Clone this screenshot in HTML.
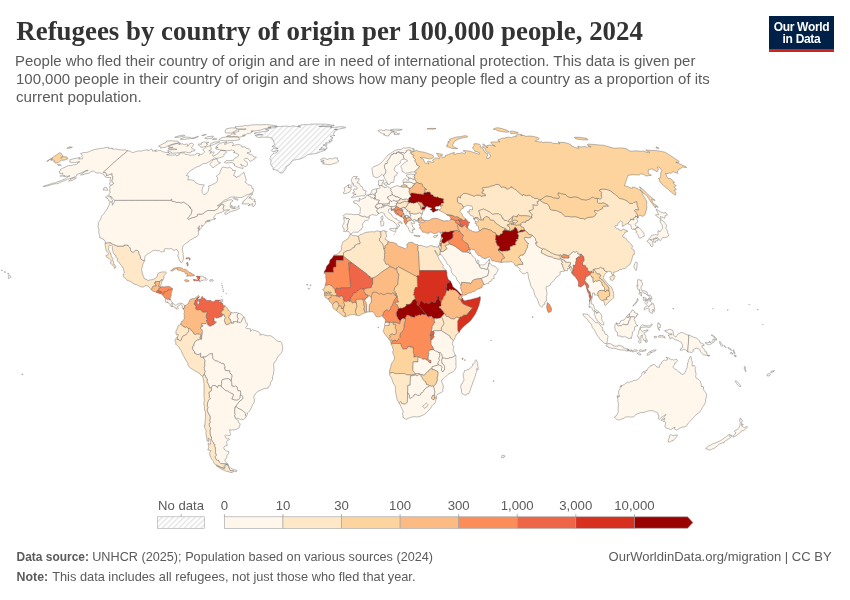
<!DOCTYPE html>
<html><head><meta charset="utf-8"><style>
html,body{margin:0;padding:0;background:#fff;width:850px;height:600px;overflow:hidden}
svg{display:block;will-change:transform}
.t{font-family:"Liberation Serif",serif;font-weight:bold;fill:#333}
.s{font-family:"Liberation Sans",sans-serif;fill:#5b5b5b}
</style></head><body>
<svg width="850" height="600" viewBox="0 0 850 600">
<defs>
<pattern id="hatch" patternUnits="userSpaceOnUse" width="3.9" height="3.9" patternTransform="rotate(45)">
<rect width="3.9" height="3.9" fill="#fff"/><rect width="1.3" height="3.9" fill="#e2e2e2"/></pattern>
</defs>
<text id="title" class="t" x="16.3" y="40" font-size="26.9" textLength="626.6" lengthAdjust="spacingAndGlyphs">Refugees by country of origin per 100,000 people, 2024</text>
<g class="s" font-size="14.9"><text id="sub1" x="15.0" y="66.4" textLength="680.4" lengthAdjust="spacingAndGlyphs">People who fled their country of origin and are in need of international protection. This data is given per</text><text id="sub2" x="16.0" y="84" textLength="693.7" lengthAdjust="spacingAndGlyphs">100,000 people in their country of origin and shows how many people fled a country as a proportion of its</text><text id="sub3" x="16.0" y="101.6" textLength="125.7" lengthAdjust="spacingAndGlyphs">current population.</text></g>
<g>
<rect x="769" y="16" width="65" height="36" fill="#002147"/>
<rect x="769" y="49" width="65" height="3" fill="#ce261e"/>
<text x="801.5" y="30.6" text-anchor="middle" font-family="Liberation Sans" font-weight="bold" font-size="12" fill="#fff" letter-spacing="-0.3">Our World</text>
<text x="801.5" y="42.6" text-anchor="middle" font-family="Liberation Sans" font-weight="bold" font-size="12" fill="#fff" letter-spacing="-0.3">in Data</text>
</g>
<g stroke="#555" stroke-width="0.4" stroke-linejoin="round">
<path d="M351.6 234.6L352.9 235.7 355 235.5 357.2 236.1 358.2 236.1 359 237.8 359.1 239.4 359.8 242.1 360.4 242.7 360 243.7 357.1 244.1 356.1 245.1 354.8 245.3 354.7 247.3 352.1 248.3 351.3 249.6 349.4 250.3 347.2 250.7 343.6 252.7 343.5 255.8 333.5 255.8 333.6 255.8 334.7 254.8 336.8 254.5 338.6 252.7 339.8 252 341.7 249.8 341.2 246.5 342.1 244.3 342.4 242.9 343.9 241.1 346.1 239.9 347.8 238.9 349.3 236.2 350 234.5 351.6 234.6Z" fill="#fee8c8"/>
<path d="M343.5 255.8L343.5 255.9 343.5 256.4 343.4 260.4 336 260.3 336 267 333.8 267.2 333.3 268.5 333.6 272.3 324.7 272.3 324.2 273.2 324.3 272.1 324.5 270.9 325.4 270.1 326.1 268.8 326 267.9 326.9 266.1 328.1 264.4 328.9 264 329.6 262.4 329.7 261 330.5 259.4 332 258.5 333.5 255.8 343.5 255.8Z" fill="#990000"/>
<path d="M343.5 256.4L343.5 255.9 343.5 255.8 343.6 252.7 347.2 250.7 349.4 250.3 351.3 249.6 352.1 248.3 354.7 247.3 354.8 245.3 356.1 245.1 357.1 244.1 360 243.7 360.4 242.7 359.8 242.1 359.1 239.4 359 237.8 358.2 236.1 360.3 234.7 362.6 234.2 364 233.1 366.1 232.3 369.7 231.9 373.3 231.7 374.4 232.1 376.4 231 378.7 231 379.6 231.6 381.1 231.5 380.7 232.8 381.1 235.3 380.7 237.4 379.4 238.9 379.6 240.9 381.4 242.4 382.9 244.1 383.9 248.8 384.7 251.1 384.9 252.3 384.5 254.5 384.7 255.7 384.4 257.1 384.7 258.8 383.8 259.8 385.2 261.8 385.3 262.9 386.1 264.3 387.2 263.9 389 265.1 390 266.7 382.3 271.7 375.8 276.8 372.6 278 370.1 278.3 370.1 276.6 369 276.2 367.6 275.4 367 274.2 359.4 268.5 351.8 262.8 343.5 256.4Z" fill="#fee8c8"/>
<path d="M383.9 248.8L382.9 244.1 381.5 243.1 381.4 242.4 379.6 240.9 379.4 238.9 380.7 237.4 381.1 235.3 380.7 232.8 381.1 231.5 383.4 230.4 384.9 230.7 384.9 232 386.7 231.1 386.9 231.6 385.9 232.9 385.9 234.1 386.7 234.7 386.5 237 385.1 238.3 385.5 239.7 386.7 239.8 387.3 241 388.1 241.4 388.1 243.4 387 244.2 386.4 245 384.9 246 385.2 247.1 385 248.2 383.9 248.8Z" fill="#fee8c8"/>
<path d="M396.5 268.3L394.9 269.3 393.6 267.8 390 266.7 389 265.1 387.2 263.9 386.1 264.3 385.3 262.9 385.2 261.8 383.8 259.8 384.7 258.8 384.4 257.1 384.7 255.7 384.5 254.5 384.9 252.3 384.7 251.1 383.9 248.8 385 248.2 385.2 247.1 384.9 246 386.4 245 387 244.2 388.1 243.4 388.1 241.4 390.7 242.3 391.7 242.1 393.5 242.5 396.5 243.7 397.6 246 399.6 246.5 402.8 247.6 405.2 248.9 406.3 248.2 407.3 247 406.6 245 407.3 243.8 408.8 242.5 410.3 242.2 413.3 242.7 414.1 243.9 414.9 243.9 415.7 244.3 417.9 244.7 418.5 245.5 417.8 246.8 418.2 247.9 417.7 249.5 418.5 251.6 419.1 260.9 419.5 270.6 419.7 275.8 417.1 275.8 417.1 276.9 407.9 271.9 398.7 266.9 396.5 268.3Z" fill="#fdbb84"/>
<path d="M446.3 270.6L437.4 270.6 428.6 270.6 419.5 270.6 419.1 260.9 418.5 251.6 417.7 249.5 418.2 247.9 417.8 246.8 418.5 245.5 421.4 245.5 423.6 246.2 425.8 246.9 426.9 247.3 428.5 246.5 429.4 245.8 431.3 245.6 432.9 245.9 433.6 247.2 434.1 246.3 435.9 246.9 437.6 247.1 438.7 246.4 440.5 250.9 440 252 439.7 254 439.2 255.3 438.7 255.8 437.9 254.9 434.9 250 434.7 250.3 435.8 253 437.4 255.6 439.4 259.7 440.4 261.1 441.2 262.6 443.4 265.5 443 266 443.1 267.7 445.9 270 446.3 270.6Z" fill="#fee8c8"/>
<path d="M441.1 303.4L440.8 303.3 440.8 302 440.5 301.1 439.3 300.1 438.9 298.2 439.2 296.3 438.1 296.1 438 296.7 436.6 296.8 437.2 297.6 437.4 299.1 436.2 300.6 435.1 302.5 433.9 302.7 431.9 301.2 431.1 301.8 430.8 302.5 429.7 303 429.6 303.5 427.3 303.5 427 303 425.3 302.9 424.5 303.4 423.9 303.1 422.6 301.6 422.2 300.9 420.6 301.3 420 302.5 419.4 304.8 418.6 305.3 417.9 305.6 417.7 305.5 416.9 304.7 416.8 303.9 417.1 302.8 417.1 301.7 415.8 300.1 415.5 299 415.5 298.4 414.6 297.6 414.6 296.1 414.1 295 413.3 295.2 413.5 294.2 414 293.1 413.8 292.1 414.5 291.3 414 290.6 414.6 289 415.6 287.1 417.5 287.3 417.1 276.9 417.1 275.8 419.7 275.8 419.5 270.6 428.6 270.6 437.4 270.6 446.3 270.6 447.2 273.1 446.7 273.6 447.2 276.3 448.2 279.4 449.1 280.1 450.4 281 449.4 282.5 447.7 283 447 283.8 446.9 285.5 446.1 289.4 446.4 290.4 446.1 292.6 445.2 295.2 443.9 296.5 443 298.5 442.8 299.6 441.7 300.3 441.1 303.1 441.1 303.4Z" fill="#d7301f"/>
<path d="M441.1 303.4L441.2 305.4 440.8 306.2 439.6 306.3 438.9 307.8 440.3 308 441.5 309.2 441.9 310.3 443 310.9 444.4 313.7 442.8 315.5 441.4 317 440 318.2 438.4 318.2 436.6 318.8 435.1 318.3 434.1 319 432.1 317.2 431.5 316.1 430.2 316.7 429.2 316.5 428.6 316.9 427.5 316.6 426.1 314.4 425.7 313.6 424 312.6 423.4 311 422.4 309.9 420.8 308.5 420.8 307.7 419.5 306.6 417.9 305.6 418.6 305.3 419.4 304.8 420 302.5 420.6 301.3 422.2 300.9 422.6 301.6 423.9 303.1 424.5 303.4 425.3 302.9 427 303 427.3 303.5 429.6 303.5 429.7 303 430.8 302.5 431.1 301.8 431.9 301.2 433.9 302.7 435.1 302.5 436.2 300.6 437.4 299.1 437.2 297.6 436.6 296.8 438 296.7 438.1 296.1 439.2 296.3 438.9 298.2 439.3 300.1 440.5 301.1 440.8 302 440.8 303.3 441.1 303.4Z" fill="#990000"/>
<path d="M396.2 294.5L396.4 293.3 394.9 293.2 394.9 291.5 393.9 290.5 394.9 287.1 397.7 284.6 397.8 281.2 398.5 275.9 399 274.8 398 273.9 398 273.1 397.1 272.4 396.5 268.3 398.7 266.9 407.9 271.9 417.1 276.9 417.5 287.3 415.6 287.1 414.6 289 414 290.6 414.5 291.3 413.8 292.1 414 293.1 413.5 294.2 413.3 295.2 414.1 295 414.6 296.1 414.6 297.6 415.5 298.4 415.5 299 414 299.4 412.9 300.5 411.3 303.3 409.1 304.6 406.9 304.4 406.2 304.6 406.5 305.6 405.3 306.5 404.3 307.5 401.4 308.5 400.8 307.9 400.5 307.9 400 308.5 398.1 308.7 398.5 308 397.7 306.2 397.4 305.1 396.4 304.7 395 303.2 395.5 301.9 396.6 302.2 397.2 302 398.5 302 397.2 299.6 397.3 297.9 397.1 296.2 396.2 294.5Z" fill="#fdd49e"/>
<path d="M426.1 314.4L425.3 314.7 423.9 314.7 422.1 314.4 421.3 314.6 420.9 315.3 420.2 315.3 419.3 314.8 416.7 316.1 415.6 315.8 415.3 316 414.7 317.6 412.9 317.1 411.2 316.8 409.8 315.9 407.8 315 406.6 315.8 405.7 317.2 405.5 319 404.1 318.8 402.5 318.4 401.1 319.8 399.9 322.2 399.7 321.5 399.6 320.3 398.5 319.4 397.6 318.1 397.4 317.1 396.3 315.8 396.5 315 396.3 313.9 396.4 311.9 397 311.4 398.1 308.7 400 308.5 400.5 307.9 400.8 307.9 401.4 308.5 404.3 307.5 405.3 306.5 406.5 305.6 406.2 304.6 406.9 304.4 409.1 304.6 411.3 303.3 412.9 300.5 414 299.4 415.5 299 415.8 300.1 417.1 301.7 417.1 302.8 416.8 303.9 416.9 304.7 417.7 305.5 419.5 306.6 420.8 307.7 420.8 308.5 422.4 309.9 423.4 311 424 312.6 425.7 313.6 426.1 314.4Z" fill="#990000"/>
<path d="M460.1 295.3L459.3 294.5 458.3 292.9 457.3 292.1 456.6 291.2 454.6 290.1 453 290.1 452.4 289.6 451.1 290.2 449.7 289 449 290.9 446.4 290.4 446.1 289.4 446.9 285.5 447 283.8 447.7 283 449.4 282.5 450.4 281 451.9 284.1 452.7 286.5 454 287.7 457.2 290.2 458.6 291.7 459.9 293.2 460.6 294.1 461.8 294.9 461.1 295.5 460.1 295.3Z" fill="#990000"/>
<path d="M449.7 289L451.1 290.2 452.4 289.6 453 290.1 454.6 290.1 456.6 291.2 457.3 292.1 458.3 292.9 459.3 294.5 460.1 295.3 459.4 296.5 458.6 297.7 458.8 298.4 458.9 299.2 460.2 299.3 460.7 299.1 461.3 299.5 460.8 300.5 461.7 301.9 462.6 303.2 463.5 304.1 471.1 307.2 473.1 307.2 466.7 315.1 463.7 315.2 461.7 317 460.2 317.1 459.6 317.9 458 317.9 457.1 317 455 318.1 454.3 319.2 452.8 319 452.3 318.7 451.7 318.8 451 318.7 448 316.5 446.4 316.5 445.6 315.6 445.6 314.2 444.4 313.7 443 310.9 441.9 310.3 441.5 309.2 440.3 308 438.9 307.8 439.6 306.3 440.8 306.2 441.2 305.4 441.1 303.1 441.7 300.3 442.8 299.6 443 298.5 443.9 296.5 445.2 295.2 446.1 292.6 446.4 290.4 449 290.9 449.7 289Z" fill="#fdbb84"/>
<path d="M459 332.6L457.7 330.4 457.6 320.9 459.6 317.9 460.2 317.1 461.7 317 463.7 315.2 466.7 315.1 473.1 307.2 471.1 307.2 463.5 304.1 462.6 303.2 461.7 301.9 460.8 300.5 461.3 299.5 462.1 298.1 462.8 298.6 463.3 299.7 464.4 300.8 465.5 300.8 467.7 300.1 470.2 299.8 472.2 299 473.3 298.9 474.1 298.4 475.4 298.3 476.1 298.2 477.2 297.8 478.4 297.6 479.4 296.7 480.3 296.7 480.4 297.4 480.3 298.9 480.3 300.3 479.9 301.2 479.3 304.1 478.3 307 477 310.3 475.1 314.2 473.2 317.1 470.5 320.7 468.2 322.8 464.8 325.4 462.6 327.4 460.1 330.6 459.6 331.9 459 332.6Z" fill="#d7301f"/>
<path d="M461.8 294.9L462.4 295.7 462.3 296.8 461.1 297.4 462.1 298.1 461.3 299.5 460.7 299.1 460.2 299.3 458.9 299.2 458.8 298.4 458.6 297.7 459.4 296.5 460.1 295.3 461.1 295.5 461.8 294.9Z" fill="#fdbb84"/>
<path d="M457.7 330.4L459 332.6 457.4 333.6 456.8 334.7 456 334.9 455.6 336.7 454.9 337.8 454.4 339.5 453.4 340.4 450.2 337.8 450 336.3 441.7 330.9 441.3 330.6 441.3 327.9 441.9 326.8 443.1 325.1 443.9 323.2 442.9 320.2 442.6 318.8 441.4 317 442.8 315.5 444.4 313.7 445.6 314.2 445.6 315.6 446.4 316.5 448 316.5 451 318.7 451.7 318.8 452.3 318.7 452.8 319 454.3 319.2 455 318.1 457.1 317 458 317.9 459.6 317.9 457.6 320.9 457.7 330.4Z" fill="#fee8c8"/>
<path d="M436.6 330.8L434 330.8 433.2 331.1 431.8 331.9 431.3 331.7 431.3 329.7 431.8 328.7 432 326.6 432.5 325.4 433.3 324 434.2 323.3 435 322.4 434 322 434.1 319 435.1 318.3 436.6 318.8 438.4 318.2 440 318.2 441.4 317 442.6 318.8 442.9 320.2 443.9 323.2 443.1 325.1 441.9 326.8 441.3 327.9 441.3 330.6 436.6 330.8Z" fill="#fee8c8"/>
<path d="M441.3 330.6L441.7 330.9 450 336.3 450.2 337.8 453.4 340.4 452.3 343.6 452.4 345.1 453.9 346.1 453.9 346.7 453.3 348.3 453.4 349.1 453.2 350.4 454 352 454.8 354.6 455.7 355.2 453.8 356.7 451.2 357.7 449.9 357.6 449 358.4 447.4 358.5 446.8 358.8 444.1 358.1 442.3 358.3 441.8 354.7 441 353.5 440.6 352.8 438.3 352.3 437.1 351.5 435.6 351.1 434.7 350.6 433.7 350 432.6 346.7 431.2 345.2 430.8 343.7 431 342.3 430.7 339.9 431.6 339.8 432.5 338.9 433.4 337.5 434 336.9 433.9 336.1 433.5 335.5 433.3 334.5 434 334.1 434.1 332.6 433.2 331.1 434 330.8 436.6 330.8 441.3 330.6Z" fill="#fff7ec"/>
<path d="M433.2 331.1L434.1 332.6 434 334.1 433.3 334.5 432.1 334.3 431.4 335.8 430 335.6 430.2 334.2 430.5 333.9 430.6 332.4 431.3 331.7 431.8 331.9 433.2 331.1Z" fill="#ef6548"/>
<path d="M430.7 339.9L430.6 336.8 430 335.6 431.4 335.8 432.1 334.3 433.3 334.5 433.5 335.5 433.9 336.1 434 336.9 433.4 337.5 432.5 338.9 431.6 339.8 430.7 339.9Z" fill="#ef6548"/>
<path d="M434.1 319L434 322 435 322.4 434.2 323.3 433.3 324 432.5 325.4 432 326.6 431.8 328.7 431.3 329.7 431.3 331.7 430.6 332.4 430.5 333.9 430.2 334.2 430 335.6 430.6 336.8 430.7 339.9 431 342.3 430.8 343.7 431.2 345.2 432.6 346.7 433.7 350 432.8 349.7 429.7 350.2 429.1 350.5 428.4 352.1 428.9 353.3 428.4 356.4 428.1 359 428.7 359.5 430.3 360.5 430.9 360 431 362.9 429.3 362.8 428.4 361.4 427.6 360.3 425.8 359.9 425.3 358.5 423.9 359.4 422.1 359 421.3 357.8 419.9 357.6 418.8 357.6 418.7 356.8 417.9 356.8 416.8 356.6 415.4 357 414.4 356.9 413.8 357.2 414 354.1 413.3 353.1 413.1 351.5 413.5 349.9 413 348.9 413 347.2 410.2 347.3 410.4 346.3 409.2 346.3 409.1 346.8 407.7 346.9 407.1 348.4 406.7 349.1 405.5 348.7 404.7 349.1 403.2 349.3 402.3 347.9 401.8 347.1 401.1 345.5 400.6 343.5 393.8 343.5 393 343.8 392.3 343.8 391.3 344.1 391 343.3 391.6 343 391.7 341.9 392.1 341.2 392.9 340.7 393.5 340.9 394.3 339.9 395.6 340 395.7 340.7 396.6 341.2 397.9 339.5 399.3 338.2 399.9 337.4 399.8 335.2 400.8 332.7 401.9 331.4 403.4 330.1 403.7 329.3 403.7 328.3 404.1 327.4 404 325.9 404.3 323.6 404.7 322 405.4 320.6 405.5 319 405.7 317.2 406.6 315.8 407.8 315 409.8 315.9 411.2 316.8 412.9 317.1 414.7 317.6 415.3 316 415.6 315.8 416.7 316.1 419.3 314.8 420.2 315.3 420.9 315.3 421.3 314.6 422.1 314.4 423.9 314.7 425.3 314.7 426.1 314.4 427.5 316.6 428.6 316.9 429.2 316.5 430.2 316.7 431.5 316.1 432.1 317.2 434.1 319Z" fill="#fc8d59"/>
<path d="M392.9 340.7L392 339.8 391.3 340.2 390.4 341.3 388.5 338.6 390.3 337.1 389.4 335.4 390.2 334.7 391.8 334.4 392 333.3 393.2 334.5 395.2 334.6 396 333.4 396.3 331.6 396 329.6 394.9 328 395.9 325 395.3 324.5 393.6 324.7 393 323.4 393.1 322.2 396 322.3 397.9 323 399.8 323.6 399.9 322.2 401.1 319.8 402.5 318.4 404.1 318.8 405.5 319 405.4 320.6 404.7 322 404.3 323.6 404 325.9 404.1 327.4 403.7 328.3 403.7 329.3 403.4 330.1 401.9 331.4 400.8 332.7 399.8 335.2 399.9 337.4 399.3 338.2 397.9 339.5 396.6 341.2 395.7 340.7 395.6 340 394.3 339.9 393.5 340.9 392.9 340.7Z" fill="#fdbb84"/>
<path d="M388.5 338.6L386.2 335.9 384.6 333.8 383.2 331.1 383.3 330.2 383.8 329.4 384.4 327.4 384.8 325.5 385.6 325.4 389 325.4 389 322.2 390.1 322.1 391.5 322.4 392.8 322.1 393.1 322.2 393 323.4 393.6 324.7 395.3 324.5 395.9 325 394.9 328 396 329.6 396.3 331.6 396 333.4 395.2 334.6 393.2 334.5 392 333.3 391.8 334.4 390.2 334.7 389.4 335.4 390.3 337.1 388.5 338.6Z" fill="#fdd49e"/>
<path d="M385.2 322.2L389 322.2 389 325.4 385.6 325.4 384.8 325.5 384.4 325.1 385.2 322.2Z" fill="#fff7ec"/>
<path d="M393.1 322.2L392.8 322.1 391.5 322.4 390.1 322.1 389 322.2 385.2 322.2 385.5 320.1 384.6 318.4 383.6 317.9 383.1 316.8 382.5 316.4 382.5 315.7 383.1 313.8 384.2 311.3 384.9 311.3 386.2 309.7 387.1 309.7 388.4 310.8 390 309.9 390.2 308.8 390.7 307.7 391.1 306.4 392.3 305.3 392.7 303.5 393.2 302.9 393.5 301.6 394.1 299.9 396 297.9 396.1 297 396.4 296.5 395.5 295.5 395.5 294.6 396.2 294.5 397.1 296.2 397.3 297.9 397.2 299.6 398.5 302 397.2 302 396.6 302.2 395.5 301.9 395 303.2 396.4 304.7 397.4 305.1 397.7 306.2 398.5 308 398.1 308.7 397 311.4 396.4 311.9 396.3 313.9 396.5 315 396.3 315.8 397.4 317.1 397.6 318.1 398.5 319.4 399.6 320.3 399.7 321.5 399.9 322.2 399.8 323.6 397.9 323 396 322.3 393.1 322.2Z" fill="#fc8d59"/>
<path d="M382.5 315.7L380.1 316.6 379.3 316.5 378.4 317 376.5 317 375.3 315.4 374.5 313.5 372.9 311.7 371.1 311.8 369.1 311.8 369.2 307.5 369.2 305.9 369.6 304.2 370.3 303.4 371.4 301.8 371.2 301.1 371.6 300.1 371.1 298.5 371.2 297.6 371.4 295.3 372 294.2 372.3 292.7 372.9 292.2 375.4 291.9 377.7 292.8 378.5 293.8 379.7 293.9 380.8 293.2 383.6 294.6 384.8 294.5 386.1 293.4 387.4 293.5 388.1 293.1 389.3 293.3 391.1 294 392.9 292.6 393.4 292.7 395 295.5 395.5 295.5 396.4 296.5 396.1 297 396 297.9 394.1 299.9 393.5 301.6 393.2 302.9 392.7 303.5 392.3 305.3 391.1 306.4 390.7 307.7 390.2 308.8 390 309.9 388.4 310.8 387.1 309.7 386.2 309.7 384.9 311.3 384.2 311.3 383.1 313.8 382.5 315.7Z" fill="#fdbb84"/>
<path d="M367.8 296.9L367.9 295.1 365.3 294.5 365.2 293.2 363.9 291.5 363.6 290.3 363.8 289.1 365.2 289 366.1 288 369.2 287.8 371.2 287.4 371.4 285.8 372.6 284 372.6 278 375.8 276.8 382.3 271.7 390 266.7 393.6 267.8 394.9 269.3 396.5 268.3 397.1 272.4 398 273.1 398 273.9 399 274.8 398.5 275.9 397.8 281.2 397.7 284.6 394.9 287.1 393.9 290.5 394.9 291.5 394.9 293.2 396.4 293.3 396.2 294.5 395.5 294.6 395.5 295.5 395 295.5 393.4 292.7 392.9 292.6 391.1 294 389.3 293.3 388.1 293.1 387.4 293.5 386.1 293.4 384.8 294.5 383.6 294.6 380.8 293.2 379.7 293.9 378.5 293.8 377.7 292.8 375.4 291.9 372.9 292.2 372.3 292.7 372 294.2 371.4 295.3 371.2 297.6 369.4 296.1 368.6 296.1 367.8 296.9Z" fill="#fdbb84"/>
<path d="M335 289.9L335.8 289.4 336.2 287.9 336.9 287.8 338.5 288.5 339.8 288 340.7 288.2 341.1 287.6 350.2 287.6 350.8 285.7 350.4 285.4 349.4 274.1 348.4 262.8 351.8 262.8 359.4 268.5 367 274.2 367.6 275.4 369 276.2 370.1 276.6 370.1 278.3 372.6 278 372.6 284 371.4 285.8 371.2 287.4 369.2 287.8 366.1 288 365.2 289 363.8 289.1 362.3 289.1 361.7 288.6 360.5 289 358.3 290 357.9 290.9 356.1 292 355.8 292.7 354.8 293.2 353.7 292.9 353.1 293.5 352.7 295.3 350.9 297.5 351 298.4 350.3 299.5 350.5 301 349.5 301.4 349 301.7 348.6 300.6 348 300.9 347.6 300.8 347.1 301.6 345.4 301.6 344.7 301.2 344.4 301.4 343.7 300.7 343.9 299.9 343.6 299.6 343.1 299.9 343.2 299 343.6 298.3 342.7 297.2 342.4 296.5 341.9 295.9 341.5 295.9 340.9 296.2 340.2 296.6 339.5 297.1 338.6 296.9 337.9 296.3 337.6 296.2 336.9 296.5 336.6 296.5 336.5 295.6 336.6 294.8 336.4 293.8 335.5 293 335.1 291.5 335 289.9Z" fill="#ef6548"/>
<path d="M335 289.9L333.5 288.1 332.2 286.2 330.7 285.5 329.6 284.7 328.3 284.7 327.2 285.3 326.1 285.1 325.3 285.9 325.1 284.5 325.8 283.2 326.1 280.7 325.9 278.2 325.7 276.9 325.9 275.6 325.4 274.3 324.2 273.2 324.7 272.3 333.6 272.3 333.3 268.5 333.8 267.2 336 267 336 260.3 343.4 260.4 343.5 256.4 351.8 262.8 348.4 262.8 349.4 274.1 350.4 285.4 350.8 285.7 350.2 287.6 341.1 287.6 340.7 288.2 339.8 288 338.5 288.5 336.9 287.8 336.2 287.9 335.8 289.4 335 289.9Z" fill="#fc8d59"/>
<path d="M324.6 292.6L323.7 290.5 322.5 289.6 323.6 289.1 324.7 287.3 325.3 285.9 326.1 285.1 327.2 285.3 328.3 284.7 329.6 284.7 330.7 285.5 332.2 286.2 333.5 288.1 335 289.9 335.1 291.5 335.5 293 336.4 293.8 336.6 294.8 336.5 295.6 336.1 295.7 334.9 295.5 334.7 295.8 334.2 295.9 332.6 295.2 331.4 295.2 327.2 295.1 326.6 295.4 325.8 295.3 324.6 295.7 324.3 293.7 326.3 293.8 326.9 293.4 327.3 293.4 328.2 292.8 329.2 293.3 330.1 293.4 331.1 292.8 330.7 292 329.9 292.5 329.2 292.5 328.3 291.8 327.6 291.9 327.1 292.5 324.6 292.6Z" fill="#fdd49e"/>
<path d="M324.3 293.7L324.6 292.6 327.1 292.5 327.6 291.9 328.3 291.8 329.2 292.5 329.9 292.5 330.7 292 331.1 292.8 330.1 293.4 329.2 293.3 328.2 292.8 327.3 293.4 326.9 293.4 326.3 293.8 324.3 293.7Z" fill="#fdd49e"/>
<path d="M328.1 299.3L326.9 298.2 325.9 298 325.4 297.2 325.4 296.8 324.7 296.3 324.6 295.7 325.8 295.3 326.6 295.4 327.2 295.1 331.4 295.2 331.4 296.1 331.1 296.4 331.3 297.2 331 297.6 330.4 297.6 329.8 298 329.1 298 328.1 299.3Z" fill="#fdd49e"/>
<path d="M331.4 295.2L332.6 295.2 334.2 295.9 334.7 295.8 334.9 295.5 336.1 295.7 336.5 295.6 336.6 296.5 336.9 296.5 337.6 296.2 337.9 296.3 338.6 296.9 339.5 297.1 340.2 296.6 340.9 296.2 341.5 295.9 341.9 295.9 342.4 296.5 342.7 297.2 343.6 298.3 343.2 299 343.1 299.9 343.6 299.6 343.9 299.9 343.7 300.7 344.4 301.4 344 301.6 343.8 302.5 344.3 303.6 344.9 305.7 344 306 343.8 306.4 344 306.9 343.8 308 343.4 308 342.8 308 342.3 309 341.7 309 341.2 308.4 341.4 307.4 340.4 305.8 339.8 306.1 339.3 306.1 338.7 306.3 338.7 305.3 338.4 304.7 338.4 303.9 337.9 302.8 337.3 301.9 335.5 301.9 334.9 302.3 334.3 302.4 333.9 303 333.6 303.7 332.4 304.8 331.4 303.3 330.5 302.3 329.9 301.9 329.4 301.4 329.1 300.3 328.8 299.7 328.1 299.3 329.1 298 329.8 298 330.4 297.6 331 297.6 331.3 297.2 331.1 296.4 331.4 296.1 331.4 295.2Z" fill="#fdbb84"/>
<path d="M336.5 310.4L335.9 310.2 334.2 309.1 333 307.7 332.7 306.8 332.4 304.8 333.6 303.7 333.9 303 334.3 302.4 334.9 302.3 335.5 301.9 337.3 301.9 337.9 302.8 338.4 303.9 338.4 304.7 338.7 305.3 338.7 306.3 339.3 306.1 338.2 307.4 337.2 308.8 337.1 309.6 336.5 310.4Z" fill="#fdd49e"/>
<path d="M345.1 316.7L344.5 316.7 342.1 315.5 340 313.5 338.1 312.1 336.5 310.4 337.1 309.6 337.2 308.8 338.2 307.4 339.3 306.1 339.8 306.1 340.4 305.8 341.4 307.4 341.2 308.4 341.7 309 342.3 309 342.8 308 343.4 308 343.3 308.8 343.6 310.1 343.1 311.2 343.7 311.9 344.5 312.1 345.4 313.2 345.5 314.2 345.3 314.6 345.1 316.7Z" fill="#fdd49e"/>
<path d="M356.3 315.1L355.3 315.1 353.6 314.6 352.2 314.6 349.4 315.1 347.8 315.8 345.5 316.8 345.1 316.7 345.3 314.6 345.5 314.2 345.4 313.2 344.5 312.1 343.7 311.9 343.1 311.2 343.6 310.1 343.3 308.8 343.4 308 343.8 308 344 306.9 343.8 306.4 344 306 344.9 305.7 344.3 303.6 343.8 302.5 344 301.6 344.4 301.4 344.7 301.2 345.4 301.6 347.1 301.6 347.6 300.8 348 300.9 348.6 300.6 349 301.7 349.5 301.4 350.5 301 351.5 301.6 351.9 302.4 352.9 303 353.7 302.3 354.8 302.2 356.4 302.9 357 306.6 356 308.8 355.4 311.8 356.4 314 356.3 315.1Z" fill="#fdd49e"/>
<path d="M356.4 302.9L354.8 302.2 353.7 302.3 352.9 303 351.9 302.4 351.5 301.6 350.5 301 350.3 299.5 351 298.4 350.9 297.5 352.7 295.3 353.1 293.5 353.7 292.9 354.8 293.2 355.8 292.7 356.1 292 357.9 290.9 358.3 290 360.5 289 361.7 288.6 362.3 289.1 363.8 289.1 363.6 290.3 363.9 291.5 365.2 293.2 365.3 294.5 367.9 295.1 367.8 296.9 367.3 297.7 366.2 297.9 365.8 299.1 365 299.4 363 299.3 361.9 299.1 361.1 299.5 360.1 299.3 356.1 299.5 356.1 300.9 356.4 302.9Z" fill="#fc8d59"/>
<path d="M365.3 312.6L361.7 314.2 360.4 315.1 358.4 315.8 356.3 315.1 356.4 314 355.4 311.8 356 308.8 357 306.6 356.4 302.9 356.1 300.9 356.1 299.5 360.1 299.3 361.1 299.5 361.9 299.1 363 299.3 362.8 300.1 363.7 301.5 363.7 303.4 364 305.4 364.5 306.4 364 308.7 364.2 310.1 364.8 311.7 365.3 312.6Z" fill="#fdd49e"/>
<path d="M367.2 312.1L365.3 312.6 364.8 311.7 364.2 310.1 364 308.7 364.5 306.4 364 305.4 363.7 303.4 363.7 301.5 362.8 300.1 363 299.3 365 299.4 364.7 300.7 365.4 301.5 366.2 302.4 366.3 303.7 366.7 304.3 366.6 310.3 367.2 312.1Z" fill="#fdbb84"/>
<path d="M369.1 311.8L367.2 312.1 366.6 310.3 366.7 304.3 366.3 303.7 366.2 302.4 365.4 301.5 364.7 300.7 365 299.4 365.8 299.1 366.2 297.9 367.3 297.7 367.8 296.9 368.6 296.1 369.4 296.1 371.2 297.6 371.1 298.5 371.6 300.1 371.2 301.1 371.4 301.8 370.3 303.4 369.6 304.2 369.2 305.9 369.2 307.5 369.1 311.8Z" fill="#fff7ec"/>
<path d="M400.6 343.5L401.1 345.5 401.8 347.1 402.3 347.9 403.2 349.3 404.7 349.1 405.5 348.7 406.7 349.1 407.1 348.4 407.7 346.9 409.1 346.8 409.2 346.3 410.4 346.3 410.2 347.3 413 347.2 413 348.9 413.5 349.9 413.1 351.5 413.3 353.1 414 354.1 413.8 357.2 414.4 356.9 415.4 357 416.8 356.6 417.9 356.8 418.1 357.6 417.8 358.8 418.2 360.1 417.8 361 418 361.9 413.2 361.9 412.9 370.2 414.4 372.4 415.8 374 411.6 375.1 406.1 374.7 404.6 373.5 395.3 373.6 395 373.8 393.6 372.6 392.2 372.5 390.8 372.9 389.7 373.4 389.5 371.8 389.8 369.5 390.7 367.1 390.8 366 391.6 363.6 392.1 362.5 393.5 360.8 394.2 359.7 394.5 357.7 394.4 356.2 393.7 355.3 393.1 353.7 392.6 352.1 392.7 351.6 393.4 350.6 392.7 348 392.3 346.3 391.1 344.6 391.3 344.1 392.3 343.8 393 343.8 393.8 343.5 400.6 343.5ZM391.6 343L391 343.3 390.4 341.3 391.3 340.2 392 339.8 392.9 340.7 392.1 341.2 391.7 341.9 391.6 343Z" fill="#fdd49e"/>
<path d="M433.7 350L434.7 350.6 435.6 351.1 437.1 351.5 438.3 352.3 439.4 353.5 439.9 355.7 439.5 356.4 439 358.5 439.4 360.7 438.6 361.6 437.8 364 439 364.7 432 366.9 432.2 368.7 430.4 369.1 429.1 370.1 428.8 371.1 427.9 371.3 425.9 373.4 424.5 375.1 423.8 375.2 423 374.9 420.5 374.6 420.1 374.4 420.1 374.2 419.2 373.6 417.7 373.4 415.8 374 414.4 372.4 412.9 370.2 413.2 361.9 418 361.9 417.8 361 418.2 360.1 417.8 358.8 418.1 357.6 417.9 356.8 418.7 356.8 418.8 357.6 419.9 357.6 421.3 357.8 422.1 359 423.9 359.4 425.3 358.5 425.8 359.9 427.6 360.3 428.4 361.4 429.3 362.8 431 362.9 430.9 360 430.3 360.5 428.7 359.5 428.1 359 428.4 356.4 428.9 353.3 428.4 352.1 429.1 350.5 429.7 350.2 432.8 349.7 433.7 350Z" fill="#fff7ec"/>
<path d="M438.3 352.3L440.6 352.8 441 353.5 441.8 354.7 442.3 358.3 441.6 360.3 442.2 363.7 442.9 363.7 443.7 364.5 444.6 366.4 444.7 369.8 443.7 370.3 442.9 372.1 441.5 370.5 441.4 368.7 441.9 367.4 441.8 366.4 440.9 365.7 440.3 366 439 364.7 437.8 364 438.6 361.6 439.4 360.7 439 358.5 439.5 356.4 439.9 355.7 439.4 353.5 438.3 352.3Z" fill="#fff7ec"/>
<path d="M442.3 358.3L444.1 358.1 446.8 358.8 447.4 358.5 449 358.4 449.9 357.6 451.2 357.7 453.8 356.7 455.7 355.2 456 356.3 455.8 358.9 456 361.2 455.9 365.3 456.3 366.6 455.5 368.5 454.5 370.3 453 371.9 450.9 372.9 448.2 374.2 445.5 377 444.6 377.5 442.9 379.3 441.9 379.9 441.6 381.8 442.6 383.8 443 385.3 443 386.1 443.4 386 443.1 388.5 442.7 389.8 443.2 390.2 442.8 391.3 441.8 392.2 439.9 393.1 437.1 394.5 436.1 395.5 436.2 396.6 436.7 396.8 436.4 398.1 434.8 398.1 434.6 397 434.4 395.8 434.3 394.9 434.8 391.9 434.3 390.1 433.5 386.4 436 383.4 436.7 381.5 437 381.3 437.4 379.8 437 379 437.2 377 437.8 375.2 437.9 371.9 436.8 371.1 435.7 370.9 435.2 370.2 434.2 369.7 432.3 369.7 432.2 368.7 432 366.9 439 364.7 440.3 366 440.9 365.7 441.8 366.4 441.9 367.4 441.4 368.7 441.5 370.5 442.9 372.1 443.7 370.3 444.7 369.8 444.6 366.4 443.7 364.5 442.9 363.7 442.2 363.7 441.6 360.3 442.3 358.3Z" fill="#fff7ec"/>
<path d="M433.5 386.4L432.3 386.1 431.5 386.4 430.4 386 429.5 386 428.1 384.8 426.4 384.4 425.8 382.7 425.8 381.8 424.8 381.5 422.4 378.7 421.7 377.1 421.3 376.7 420.5 374.6 423 374.9 423.8 375.2 424.5 375.1 425.9 373.4 427.9 371.3 428.8 371.1 429.1 370.1 430.4 369.1 432.2 368.7 432.3 369.7 434.2 369.7 435.2 370.2 435.7 370.9 436.8 371.1 437.9 371.9 437.8 375.2 437.2 377 437 379 437.4 379.8 437 381.3 436.7 381.5 436 383.4 433.5 386.4Z" fill="#fdd49e"/>
<path d="M399.3 403L397.8 401 396.9 399.1 396.5 396.5 396 394.6 395.4 390.6 395.4 387.5 395.2 386 394.3 384.9 393.2 382.8 392 379.6 391.6 378 389.8 375.4 389.7 373.4 390.8 372.9 392.2 372.5 393.6 372.6 395 373.8 395.3 373.6 404.6 373.5 406.1 374.7 411.6 375.1 415.8 374 417.7 373.4 419.2 373.6 420.1 374.2 420.1 374.4 418.8 375 418.1 375 416.6 376 415.8 374.9 412.2 375.8 410.5 375.9 410.2 385.3 407.9 385.3 407.7 393 407.3 402.6 405.2 404 404 404.2 402.6 403.7 401.6 403.5 401.3 402.4 400.5 401.7 399.3 403Z" fill="#fee8c8"/>
<path d="M421.3 376.7L421.7 377.1 422.4 378.7 424.8 381.5 425.8 381.8 425.8 382.7 426.4 384.4 428.1 384.8 429.5 386 426.2 387.9 424.1 389.9 423.3 391.6 422.5 392.6 421.3 392.8 420.8 394 420.6 394.9 419.1 395.5 417.3 395.3 416.2 394.6 415.3 394.3 414.2 394.9 413.6 396.2 412.5 396.9 411.3 398.1 409.7 398.4 409.2 397.5 409.5 395.9 408.3 393.4 407.7 393 407.9 385.3 410.2 385.3 410.5 375.9 412.2 375.8 415.8 374.9 416.6 376 418.1 375 418.8 375 420.1 374.4 420.5 374.6 421.3 376.7Z" fill="#fff7ec"/>
<path d="M433 404.7L432.6 405.1 431.5 406.4 430.8 407.8 429.4 409.7 426.6 412.4 424.9 413.9 423.2 415.1 420.8 416.1 419.7 416.3 419.3 417 418 416.6 416.9 417.1 414.6 416.6 413.2 416.9 412.3 416.8 410 417.8 408.1 418.2 406.7 419.2 405.7 419.3 404.8 418.4 404.1 418.3 403.2 417.1 403.1 417.5 402.8 416.8 403 415.3 402.3 413.5 403.1 413 403.1 411 401.8 408.6 400.8 406.4 399.3 403 400.5 401.7 401.3 402.4 401.6 403.5 402.6 403.7 404 404.2 405.2 404 407.3 402.6 407.7 393 408.3 393.4 409.5 395.9 409.2 397.5 409.7 398.4 411.3 398.1 412.5 396.9 413.6 396.2 414.2 394.9 415.3 394.3 416.2 394.6 417.3 395.3 419.1 395.5 420.6 394.9 420.8 394 421.3 392.8 422.5 392.6 423.3 391.6 424.1 389.9 426.2 387.9 429.5 386 430.4 386 431.5 386.4 432.3 386.1 433.5 386.4 434.3 390.1 434.8 391.9 434.3 394.9 434.4 395.8 433.3 395.3 432.6 395.5 432.4 396.3 431.7 397.2 431.6 398.2 432.9 399.6 434.2 399.3 434.8 398.1 436.4 398.1 435.8 400.1 435.3 402.2 434.7 403.4 433 404.7Z" fill="#fff7ec"/>
<path d="M427.4 403.9L428.1 404.7 427.4 406 426.9 406.9 425.7 407.3 425.2 408.1 424.4 408.4 422.9 406.4 424.2 404.7 425.4 403.7 426.5 403.1 427.4 403.9Z" fill="#fff7ec"/>
<path d="M434.8 398.1L434.2 399.3 432.9 399.6 431.6 398.2 431.7 397.2 432.4 396.3 432.6 395.5 433.3 395.3 434.4 395.8 434.6 397 434.8 398.1Z" fill="#fdd49e"/>
<path d="M476.7 360.8L477.2 361.9 477.7 363.6 477.9 366.8 478.4 368 478.1 369.3 477.7 370 477 368.5 476.5 369.3 476.8 371.2 476.5 372.3 475.9 372.9 475.6 375.1 474.5 378.2 473.1 381.8 471.3 386.8 470.1 390.4 468.9 393.4 467 394.1 464.9 395.2 463.7 394.5 462 393.6 461.5 392.2 461.5 389.9 460.8 387.8 460.8 385.9 461.3 384 462.4 383.5 462.4 382.7 463.7 380.7 464 379 463.5 377.8 463.2 376.1 463.2 373.7 464.1 372.3 464.5 370.6 465.6 370.5 466.9 370 467.8 369.5 468.8 369.5 470.2 368 472.2 366.4 472.9 365 472.7 363.9 473.6 364.2 475 362.4 475.1 360.8 475.9 359.7 476.7 360.8Z" fill="#fff7ec"/>
<path d="M532.2 235.2L535.4 238.3 535.7 240.4 536.9 241.8 537.2 243.1 535.5 242.8 536.8 245.7 539.4 247.3 542.8 249.1 541.7 250.3 541.3 252.8 543.7 253.8 546 255.1 549.2 256.5 552.4 256.9 553.9 258.2 555.7 258.4 558.5 259.1 560.3 259 560.4 258 559.8 256.3 559.7 255.2 561 254.6 561.6 256.7 561.7 257.2 564 258.2 565.3 257.8 567.2 258 569 257.9 568.9 256.3 567.8 255.5 569.5 255.1 571.1 253.2 573.3 251.5 575.3 252.2 576.6 251.1 578.1 252.7 577.6 253.8 580.1 254.2 580.5 255.2 579.8 255.6 580.3 257.3 578.6 256.8 576.1 258.6 576.5 260.1 575.7 262.3 575.8 263.6 575.1 265.7 573.2 265.1 573.6 267.8 573.2 268.7 573.6 269.8 572.6 270.5 570.8 266.3 570.2 266.3 570 268 568.6 266.6 569.1 265.1 570.1 265 570.7 262.8 569.4 262.3 567.3 262.4 565.1 262 564.5 260.2 563.4 260.1 561.5 258.9 561 260.7 562.9 262.1 561.6 263.1 561.3 264 562.8 264.7 562.6 266.3 563.7 268.3 564.4 270.4 564.2 271.4 562.6 271.3 559.9 271.9 560.3 273.9 559.3 275.4 556.3 277.2 554.1 280.2 552.6 281.9 550.5 283.6 550.6 284.8 549.6 285.5 547.6 286.4 546.5 286.5 546.1 288.5 546.8 291.9 547.1 294.1 546.3 296.6 546.6 301 545.5 301.2 544.5 303.2 545.3 304 543.2 304.8 542.5 306.5 541.6 307.3 539.3 304.9 538.1 301.2 537 298.5 536.1 297.3 534.7 294.8 533.9 291.5 533.4 289.9 531 286.3 529.6 281.2 528.5 277.9 528.2 274.7 527.5 272.2 524.3 273.8 522.7 273.5 519.4 270.3 520.4 269.4 519.6 268.4 516.7 266.1 518 264.4 522.9 264.4 522.2 262.1 520.8 260.8 520.2 258.8 518.6 257.6 520.6 254.9 523.2 255.1 525.1 252.3 526 249.7 527.6 247.1 527.1 245.2 528.7 243.7 526.6 242.4 525.4 240.6 524.1 238.3 524.9 237.2 528.4 237.8 530.7 237.4 532.2 235.2Z" fill="#fff7ec"/>
<path d="M559.7 255.2L559.8 256.3 560.4 258 560.3 259 558.5 259.1 555.7 258.4 553.9 258.2 552.4 256.9 549.2 256.5 546 255.1 543.7 253.8 541.3 252.8 541.7 250.3 542.8 249.1 543.6 248.5 545.6 249.3 548.2 251 549.5 251.4 550.5 252.7 552.4 253.2 554.4 254.3 557.1 254.9 559.7 255.2Z" fill="#fee8c8"/>
<path d="M567.8 255.5L568.9 256.3 569 257.9 567.2 258 565.3 257.8 564 258.2 561.7 257.2 561.6 256.7 562.7 254.7 563.7 254.1 565.4 254.7 566.6 254.8 567.8 255.5Z" fill="#fc8d59"/>
<path d="M572.6 270.5L572.8 272.3 572 271.9 572.4 274 571.6 272.7 571.3 271.3 570.6 270.1 569.5 268.6 567.4 268.5 567.7 269.5 567.2 271 566.2 270.5 565.9 270.9 565.3 270.7 564.4 270.4 563.7 268.3 562.6 266.3 562.8 264.7 561.3 264 561.6 263.1 562.9 262.1 561 260.7 561.5 258.9 563.4 260.1 564.5 260.2 565.1 262 567.3 262.4 569.4 262.3 570.7 262.8 570.1 265 569.1 265.1 568.6 266.6 570 268 570.2 266.3 570.8 266.3 572.6 270.5Z" fill="#fee8c8"/>
<path d="M551.5 308.5L551.3 311.2 550.3 311.9 548.3 312.5 547.2 310.4 546.6 306.7 547.4 302.4 549.1 303.9 550.2 305.7 551.5 308.5Z" fill="#fc8d59"/>
<path d="M588.9 275.3L587.7 276.4 586.2 276.6 585.5 279.4 584.6 279.9 586.1 282.2 587.8 284.1 588.9 285.8 588.4 288.1 587.6 288.6 588.3 289.9 590.1 292 590.5 293.4 590.6 294.6 591.7 297 590.6 299.5 589.7 302.1 589.4 300.2 589.9 298.2 589 296.7 588.9 293.8 587.9 292.4 586.8 289.3 586 286 584.7 283.8 583.4 285.2 581 287 579.7 286.8 578.2 286.2 578.6 282.9 577.8 280.5 575.6 277.5 575.7 276.5 574.3 276.2 572.4 274 572 271.9 572.8 272.3 572.6 270.5 573.6 269.8 573.2 268.7 573.6 267.8 573.2 265.1 575.1 265.7 575.8 263.6 575.7 262.3 576.5 260.1 576.1 258.6 578.6 256.8 580.3 257.3 579.8 255.6 580.5 255.2 580.1 254.2 581.3 254 582.4 255.5 583.5 256.1 584 258.1 584.4 260.3 582.7 262.5 583 265.6 585.3 265.2 586.2 267.6 587.7 268.1 587.4 270.3 589.3 271.2 590.3 271.7 591.9 271 592.1 272 590.4 273.7 590.1 274.7 588.9 275.3Z" fill="#ef6548"/>
<path d="M604 290.8L601.8 290.4 598.9 290.9 597.7 293.1 598.5 296.3 596.3 295 594.4 295.1 594.5 293 592.5 293.1 592.6 295.9 591.7 299.8 591.1 302.1 591.4 304 592.9 304 594 306.4 594.5 308.7 595.9 310.2 597.3 310.5 598.6 311.9 597.9 312.9 596.4 313.3 596.1 311.9 594.2 310.8 593.8 311.2 592.9 310.2 592.4 308.9 591.1 307.5 589.9 306.2 589.6 307.7 589.1 306.3 589.2 304.7 589.7 302.1 590.6 299.5 591.7 297 590.6 294.6 590.5 293.4 590.1 292 588.3 289.9 587.6 288.6 588.4 288.1 588.9 285.8 587.8 284.1 586.1 282.2 584.6 279.9 585.5 279.4 586.2 276.6 587.7 276.4 588.9 275.3 590.1 274.7 591.2 275.5 591.6 277.1 593.1 277.2 593 280 593.4 282.3 595.6 280.7 596.3 281.2 597.6 281.1 598 280.2 599.7 280.4 601.8 282.5 602.3 285.1 604.4 287.4 604.6 289.6 604 290.8Z" fill="#fff7ec"/>
<path d="M609 291L606.8 290 606 291.8 604 290.8 604.6 289.6 604.4 287.4 602.3 285.1 601.8 282.5 599.7 280.4 598 280.2 597.6 281.1 596.3 281.2 595.6 280.7 593.4 282.3 593 280 593.1 277.2 591.6 277.1 591.2 275.5 590.1 274.7 590.4 273.7 592.1 272 592.4 272.7 593.6 272.7 592.8 269.7 593.9 269.3 595.6 271.4 597 273.8 599.8 273.8 601 276.1 599.7 276.8 599.2 277.7 602.1 279.3 604.5 282.4 606.3 284.7 608.2 286.5 609.1 288.4 609 291Z" fill="#fdd49e"/>
<path d="M598.5 296.3L597.7 293.1 598.9 290.9 601.8 290.4 604 290.8 606 291.8 606.8 290 609 291 609.7 292.7 609.7 295.9 606.1 297.9 607.2 299.5 604.8 299.6 602.9 300.7 601 300.3 599.9 299 598.5 296.3Z" fill="#fdd49e"/>
<path d="M607.6 271.7L605 274 603.5 276.4 603.3 278.3 605.4 281 608.1 284.4 610.4 286.1 612 288.2 613.7 293 613.8 297.6 612.1 299.3 609.6 301 607.9 303.2 605.2 305.6 604.2 304 604.8 302.2 602.9 300.7 604.8 299.6 607.2 299.5 606.1 297.9 609.7 295.9 609.7 292.7 609 291 609.1 288.4 608.2 286.5 606.3 284.7 604.5 282.4 602.1 279.3 599.2 277.7 599.7 276.8 601 276.1 599.8 273.8 597 273.8 595.6 271.4 593.9 269.3 595 268.7 596.8 268.7 599 268.4 600.6 267 601.9 268 604.1 268.5 604 270 605.2 271.1 607.6 271.7Z" fill="#fee8c8"/>
<path d="M596.1 311.9L596.4 313.3 597.9 312.9 598.6 311.9 599.1 312.1 600.6 313.7 601.6 315.4 601.8 317.2 601.6 318.4 601.9 319.3 602.1 320.8 602.9 321.6 603.9 323.9 603.9 324.8 602.2 324.9 600 323 597.2 320.9 596.9 319.6 595.5 317.8 595.1 315.7 594.2 314.2 594.4 312.3 593.8 311.2 594.2 310.8 596.1 311.9ZM636.9 316.4L635.2 317.3 633.2 316.9 630.5 316.9 629.9 319.9 629 320.8 627.9 324.4 626 325 623.8 324.2 622.7 324.5 621.4 325.8 619.9 325.6 618.4 326.1 616.8 324.6 616.4 322.9 618.1 323.8 619.9 323.3 620.3 321.1 621.3 320.6 624 320 625.6 318 626.7 316.3 627.8 317.7 628.2 316.8 629.3 316.9 629.4 315.2 629.4 313.9 631.1 312.1 632.1 310 633.1 310 634.3 311.3 634.5 312.5 636.1 313.2 638 314 637.9 315 636.4 315.1 636.9 316.4Z" fill="#fff7ec"/>
<path d="M626.7 316.3L627.5 315.3 629.4 313.9 629.4 315.2 629.3 316.9 628.2 316.8 627.8 317.7 626.7 316.3Z" fill="#fff7ec"/>
<path d="M604.2 331L604.6 332.8 605.3 334.3 607 334.5 608.1 336.2 607.4 339.4 607.1 343.5 604.6 343.5 602.7 341.3 599.9 339.2 598.9 337.6 597.3 335.5 596.2 333.5 594.4 329.9 592.4 327.7 591.7 325.4 590.8 323.4 588.7 321.7 587.5 319.5 585.7 318 583.1 315.1 582.9 313.8 584.4 313.9 588 314.4 590.1 317 592 318.8 593.3 319.8 595.5 322.7 597.9 322.7 599.9 324.5 601.2 326.7 603 327.9 602.1 330 603.4 330.9 604.2 331ZM607.7 343.6L610.5 343.7 612.3 344.8 613.2 345 613.5 345.9 617.9 346.2 618.4 345.1 622.7 346.3 623.4 348 626.8 348.5 629.5 350.1 626.8 351.1 624.4 350 622.3 350.1 619.9 349.9 617.8 349.4 615.2 348.4 613.5 348.2 612.5 348.5 608.4 347.4 608 346.3 605.9 346.1 607.7 343.6ZM635.4 323.4L638 325.8 635.3 326.1 634.5 327.9 634.6 330.3 632.4 332 632.3 334.7 631.2 338.7 630.9 337.7 628.2 338.9 627.4 337.3 625.8 337.2 624.6 336.3 621.8 337.3 621.1 336 619.5 336.1 617.6 335.8 617.4 332.3 616.2 331.6 615.1 329.4 614.8 327.1 615.1 324.6 616.4 322.9 616.8 324.6 618.4 326.1 619.9 325.6 621.4 325.8 622.7 324.5 623.8 324.2 626 325 627.9 324.4 629 320.8 629.9 319.9 630.5 316.9 633.2 316.9 635.2 317.3 634 319.7 635.8 322.2 635.4 323.4ZM652.4 324.4L650.6 327 648.9 327.5 646.7 327 642.8 327.2 640.8 327.5 640.5 329.5 642.5 331.8 643.8 330.7 648.1 329.8 647.9 331 646.9 330.6 645.9 332.1 643.8 333.1 645.9 336.5 645.4 337.4 647.3 340.4 647.2 342.1 646 342.3 645.1 342 646.3 339.8 644 340.8 643.5 340.1 643.8 339.1 642.2 337.6 642.5 335 640.9 335.8 641 338.9 640.9 342.6 639.4 343 638.5 342.2 639.3 339.8 639 337.3 638 337.3 637.4 335.5 638.4 333.8 638.8 331.7 640 327.7 640.4 326.7 642.4 324.7 644.2 325.5 647.1 325.9 649.8 325.7 652 323.8 652.4 324.4ZM673 331.2L673.6 335.4 675.9 337 677.9 334.2 680.6 332.6 682.7 332.6 684.6 333.5 686.3 334.5 688.8 335 688.4 343.5 687.7 352 685.9 349.9 683.6 349.3 682.9 350.1 680 350.2 681.2 348 682.7 347.3 682.3 344.5 681.3 342.3 677 340.1 675.1 339.8 671.7 337.4 671 338.7 670.1 338.9 669.6 338 669.7 336.8 668 335.5 670.5 334.6 672.1 334.6 671.9 333.9 668.6 333.9 667.7 332.4 665.6 331.9 664.7 330.6 667.8 330 669 329.1 672.7 330.2 673 331.2ZM650.9 352.7L649.3 354.7 647.2 355.3 647 355 647.3 354.1 648.4 352.5 650.8 351.4 650.9 352.7ZM639.2 350.3L641.1 349.7 642.5 350.5 644 350.3 646.2 349.3 645.7 350.8 642.2 351.5 639.2 351.2 639.2 350.3ZM634.6 349.3L635.4 350 636.9 349.8 637.4 350.9 634.7 351.5 633 351.8 631.8 351.8 632.7 350.3 634 350.3 634.6 349.3ZM636.8 353.2L639 352.7 640.1 353.5 640.9 354.2 640.7 355 639.7 355 636.8 353.2ZM658.6 322.5L658.8 323.9 660.2 324.1 660.4 325.2 660.3 327.5 659.1 327.2 658.8 328.8 659.7 330.2 659.1 330.5 658.2 328.8 657.5 325.5 657.9 323.4 658.6 322.5ZM661.9 335.5L664.4 336.2 665.2 338.2 663.3 337.2 661.3 337 660 337.1 658.4 337 659 335.6 661.9 335.5ZM656 338.1L654.5 337.6 654 336.5 656.4 336.3 656.9 337.2 656 338.1ZM630.2 350.1L631.8 349.9 631 351.4 629.9 351.2 630.2 350.1ZM628 349.4L629.3 350.1 628.3 351.2 626.8 349.6 628 349.4Z" fill="#fff7ec"/>
<path d="M650.8 351.4L651.1 350.8 653.1 350.2 654.7 350.1 655.5 349.8 656.3 350.1 655.4 350.8 652.9 352 650.9 352.7 650.8 351.4Z" fill="#fff7ec"/>
<path d="M688.8 335L692.7 336.8 696.9 338.3 698.4 339.6 699.6 340.9 699.9 342.5 703.6 344.1 704.1 345.5 701.9 345.7 702.3 347.5 704.2 349.2 705.5 352 706.8 351.9 706.6 353.1 708 356 709.9 355.1 709.5 355.9 708 356 707.5 355.4 705.6 355.1 703.3 354.7 701.7 353 700.5 351.6 699.5 349.3 696.6 348.1 694.6 348.9 693.1 349.7 693.2 351.7 691.3 352.6 690.1 352.1 687.7 352 688.4 343.5 688.8 335ZM715.6 337.7L716.4 338.6 716.6 339.9 715.8 340.6 715.5 339.1 715 338.1 714 337.2 712.8 336.1 711.1 335.3 711.8 334.7 713 335.4 713.8 336 714.7 336.6 715.6 337.7ZM712.1 343.4L710.8 344.1 709.6 344.7 708.3 344.7 706.5 343.9 705.2 343.2 705.5 342.4 707.5 342.8 708.8 342.6 709.2 341.3 709.6 341.2 709.7 342.6 711 342.4 711.7 341.5 713.1 340.6 712.9 339.1 714.3 339 714.8 339.4 714.6 340.9 713.7 342.5 712.5 342.7 712.1 343.4ZM720.2 342.1L720.8 342.7 721.8 344.4 722.9 345.3 722.5 346 721.8 346.3 720.9 345.3 720 343.6 719.6 341.6 720 341.3 720.2 342.1Z" fill="#fff7ec"/>
<path d="M639.2 279.7L640.7 280.5 641.3 279.8 641.6 280.4 641.4 281.5 642.5 283.4 642.3 285.6 641 286.4 641 288.6 641.8 290.6 643 290.9 644 290.6 647.1 292.1 647 293.5 647.9 294.1 647.8 295.3 645.8 294 644.8 292.7 644.3 293.6 642.7 292.1 640.6 292.5 639.4 291.9 639.4 290.8 640 290.1 639.3 289.5 639.1 290.5 637.8 289 637.3 287.8 636.8 285.3 637.9 286.2 637.4 282.1 637.8 279.7 639.2 279.7ZM654.1 306.1L654.5 307.9 654.7 309.3 654.1 311.7 653.1 309.1 652.1 310.4 652.9 312.3 652.4 313.5 649.6 312 648.8 310.1 649.4 308.9 647.9 307.6 647.2 308.7 646.1 308.6 644.5 310.1 644.1 309.3 644.8 307.1 646.2 306.4 647.4 305.4 648.3 306.6 650 305.9 650.3 304.7 651.9 304.6 651.6 302.6 653.6 303.8 653.9 305.2 654.1 306.1ZM651.2 296.3L652.1 299.2 650.3 298.5 650.4 299.4 651.1 301 650.1 301.6 649.8 299.8 649.1 299.6 648.6 298.1 650 298.3 649.8 297.3 648.2 295.3 650.4 295.3 651.2 296.3ZM642.9 297L644.4 297.8 645.9 297.8 645.9 298.9 645 300 643.6 300.8 643.4 299.6 643.4 298.3 642.9 297ZM648.2 301.2L647.4 302.1 646.9 303.8 646.2 304.5 644.6 302.7 645 302 645.6 301.3 645.6 299.7 646.9 299.5 646.7 301.3 648.2 298.7 648.2 301.2ZM640.3 294.9L638.9 292.9 640.8 293 641.7 293.9 641.4 296.2 640.3 294.9ZM635.8 303.8L632.9 306.2 633.9 304.4 635.4 302.8 636.7 301 637.6 298.4 638.2 300.5 636.9 302 635.8 303.8Z" fill="#fff7ec"/>
<path d="M637.2 264.3L636.7 268.5 636.2 270.6 634.5 268.4 633.9 266.5 634.7 263.9 636.1 261.9 637.3 262.7 637.2 264.3Z" fill="#fff7ec"/>
<path d="M637.8 217.3L638.3 217.7 637.4 217.6 637 218.5 636.9 219.3 638 221.2 637.3 221.8 637.1 222.2 636.7 223 635.6 223.4 635 224.1 635.5 225.3 635.4 225.5 636.5 226 638.3 227.1 638.3 227.7 637.4 227.9 636 228 635.7 229.2 634.7 229.1 634.7 229.4 633.4 228.9 633.4 229.3 632.8 229.6 632.5 229.1 631.9 228.8 631.1 228.4 631.1 227.3 631.5 227 631.1 226.5 630.9 225.1 630.5 224.7 629.2 224.4 627.8 223.7 628.7 222 630.3 220.6 630.7 218.8 632.1 219.6 634 219.7 632.9 218.3 635.5 217.2 635.5 215.8 637.8 217.3Z" fill="#fff7ec"/>
<path d="M638.3 227.1L641.6 230.2 643 231.9 644.4 234.9 644.2 236.3 642.4 236.8 641.2 237.9 639.3 238.1 638.4 236.7 638 234.7 635.8 232 637.2 231.6 634.7 229.4 634.7 229.1 635.7 229.2 636 228 637.4 227.9 638.3 227.7 638.3 227.1Z" fill="#fff7ec"/>
<path d="M657.4 238.8L658.1 239.7 657.5 241.2 656.3 240.4 655.4 241 655.4 242.5 653.7 241.8 653.2 240.6 653.7 239 655.1 239.3 655.5 238.2 657.4 238.8ZM667.4 230.9L667.6 233 668.7 234.3 668.4 236.2 666.2 237.4 662.5 237.6 660.7 240.6 658.8 239.5 657.8 237.6 654.3 238.2 652.2 239.4 649.7 239.5 652.7 241.4 653 245.8 652 246.9 650.6 245.9 650.2 243.6 648.5 242.8 646.9 241 648.6 240.2 649.1 238.5 650.7 237.2 651.5 235.4 655.4 234.6 658 235.2 658 230.5 660.1 231.8 661.9 229.2 662.6 228.1 662.2 225 660.1 222 660 220.4 662 219.9 665.3 223.5 666.5 225.6 665.9 228.2 667.4 230.9ZM664.5 213.2L665.2 212.1 667.6 215 665 215.7 664.8 218.3 660.4 216.5 661 219.4 657.1 216.8 655.4 214.7 658.7 214.7 656.9 211.1 656.1 209.1 660.4 211.8 662.6 212.7 664.5 213.2Z" fill="#fff7ec"/>
<path d="M619.5 198.4L623.6 199.2 627.2 201 629.7 203.4 632.8 203.4 633.8 202.4 636.7 201.6 637.2 203.9 637 204.9 638.2 207.7 638.5 210.2 635.7 209.7 634.5 210.6 636.4 212.8 638 215.9 637 216 637.8 217.3 635.5 215.8 635.5 217.2 632.9 218.3 634 219.7 632.1 219.6 630.7 218.8 630.3 220.6 628.7 222 627.8 223.7 625.2 224.4 624.2 225.7 622.3 226.4 622.8 225.2 621.9 224.1 622.7 222.4 620.8 221 619.5 221.9 618 223.8 617.5 225.4 615.4 225.6 614.9 226.8 616.8 228.5 618.8 229 619.4 230.1 621.4 230.9 623 229 625.4 230.1 626.8 230.1 627.8 231.5 625 232.2 624.6 233.6 623.1 234.9 622.7 236.8 625.6 238.2 627.5 240.8 629.8 243.2 632 245.2 632.6 247.1 631.5 247.9 632.5 249.2 634.1 250.1 634.4 252.2 634.4 254.3 633.2 254.5 632.4 257.3 631.5 260.8 630.1 263.9 627.5 266.3 624.8 268.5 622.3 268.8 621.1 270 620.2 269.1 619.1 270.4 616.2 271.7 613.9 272.1 613.6 274.9 612.3 275.1 611.4 273.2 611.8 272.1 608.6 271.3 607.6 271.7 605.2 271.1 604 270 604.1 268.5 601.9 268 600.6 267 599 268.4 596.8 268.7 595 268.7 593.9 269.3 592.8 269.7 593.6 272.7 592.4 272.7 592.1 272 591.9 271 590.3 271.7 589.3 271.2 587.4 270.3 587.7 268.1 586.2 267.6 585.3 265.2 583 265.6 582.7 262.5 584.4 260.3 584 258.1 583.5 256.1 582.4 255.5 581.3 254 580.1 254.2 577.6 253.8 578.1 252.7 576.6 251.1 575.3 252.2 573.3 251.5 571.1 253.2 569.5 255.1 567.8 255.5 566.6 254.8 565.4 254.7 563.7 254.1 562.7 254.7 561.6 256.7 561 254.6 559.7 255.2 557.1 254.9 554.4 254.3 552.4 253.2 550.5 252.7 549.5 251.4 548.2 251 545.6 249.3 543.6 248.5 542.8 249.1 539.4 247.3 536.8 245.7 535.5 242.8 537.2 243.1 536.9 241.8 535.7 240.4 535.4 238.3 532.2 235.2 528.4 234.2 527.2 232.2 525.2 231 524.6 230.2 523.9 228.7 523.7 227.7 522.2 227.1 521.6 227.4 520.3 225 520.8 224.4 520.3 223.8 521.9 222.5 523.3 222 525.6 222.4 525.9 220.7 528.5 220.4 528.9 219.4 531.7 218 531.8 217.4 531.1 215.9 532.3 215.2 528.7 210.8 532.4 209.7 533.2 209.2 532.8 204.6 537.2 205.4 537.9 204.3 536.8 201.7 538.4 201.5 539.1 199.8 539.8 199.6 541.2 201.3 543.5 202.7 546.9 203.6 549.2 205.7 549.8 208.7 551 209.8 553.7 210.3 556.6 210.6 559.9 212.2 561.3 212.5 563.3 214.9 565.2 216.4 567.5 216.4 572.1 216.9 574.8 216.6 577 217 580.9 218.5 583.4 218.5 584.7 219.3 586.5 218 589.5 217.1 592.6 217 594.6 216 595.4 214.7 596.4 213.8 595.6 212.9 594.4 211.9 594.6 210.3 595.9 210.5 598.3 211 599.6 209.7 602.2 208.7 602.7 207 603.7 206.3 606.5 205.9 608.3 206.2 608 205.3 605 203.5 602.9 202.7 601.9 203.6 599.7 203.2 598.7 203.6 597.6 202.5 597.4 200 597.2 198.1 600.2 199 602 197.4 601.3 196.3 601.2 193.6 601.7 192.8 600.7 191.4 599.2 190.9 599.9 189.6 602 189.2 604.5 189.1 608 189.8 610.5 190.8 613.6 193.3 615.2 194.4 617 195.9 619.5 198.4ZM614.1 279.3L612.3 280.5 610.3 279.7 609.9 277.5 610.8 276.3 613.2 275.5 614.5 275.6 615.1 276.6 614.3 277.7 614.1 279.3Z" fill="#fee8c8"/>
<path d="M539.8 199.6L541.8 199.1 544.5 196.9 546.9 195.8 549.1 196.5 551.2 196.6 553.2 197.7 555.2 197.8 558.4 198.5 559.4 196.7 557.8 195.2 558.3 192.6 561.2 193.7 563.1 194 565.9 194.6 567.4 196.5 570.8 197.6 572.4 197.1 574.8 196.8 577 197.1 579.7 198.3 581.6 199.6 583.5 199.6 586.3 200 587.8 199.4 590.2 198.9 592 197.2 593.4 197.4 595 198.3 597.2 198.1 597.4 200 597.6 202.5 598.7 203.6 599.7 203.2 601.9 203.6 602.9 202.7 605 203.5 608 205.3 608.3 206.2 606.5 205.9 603.7 206.3 602.7 207 602.2 208.7 599.6 209.7 598.3 211 595.9 210.5 594.6 210.3 594.4 211.9 595.6 212.9 596.4 213.8 595.4 214.7 594.6 216 592.6 217 589.5 217.1 586.5 218 584.7 219.3 583.4 218.5 580.9 218.5 577 217 574.8 216.6 572.1 216.9 567.5 216.4 565.2 216.4 563.3 214.9 561.3 212.5 559.9 212.2 556.6 210.6 553.7 210.3 551 209.8 549.8 208.7 549.2 205.7 546.9 203.6 543.5 202.7 541.2 201.3 539.8 199.6Z" fill="#fdd49e"/>
<path d="M512.3 217.6L511.3 218.1 509 219.9 508.7 221.8 507.9 221.8 506.9 220.5 504.2 220.5 503.2 218.3 502.1 218.3 501.5 215.7 498.4 213.8 494.9 214 492.6 214.4 489.9 212.1 487.9 211.1 484.2 209.3 483.7 209 478.8 210.6 481.4 220.1 480.3 220.2 478.3 218.2 476.7 217.5 474.5 218 473.7 218.9 473.5 218.2 473.7 217.2 473.1 216.3 470.5 215.4 469 213 467.7 212.4 467.4 211.6 469.5 211.8 469.1 209.9 470.7 209.5 472.6 209.9 472.4 207.4 471.6 205.8 469.6 205.9 467.6 205.3 465.6 206.4 463.8 207 462.6 206.5 462.5 205.2 460.8 203.5 459.3 203.6 457.2 201.9 457.9 199.9 457.1 199.4 458 196.6 460.5 198.1 460.2 196.3 463.5 193.5 466.6 193.4 471.5 195.2 474.2 196.2 476 195.1 479.1 195.1 482.1 196.4 482.4 195.7 485.3 195.8 485.4 194.6 481.5 192.8 483 191.6 482.4 190.9 484 190.3 481.9 188.6 482.5 187.7 489.4 186.9 490.1 186.2 494.5 185.3 495.8 184.3 499.5 184.8 501.3 187.4 503.1 186.8 506 187.7 506.4 189 508.2 188.9 512 186.5 511.7 187.3 515.1 189.2 522.5 195.6 523 194.3 526.4 195.7 528.9 195.1 530.3 195.5 531.9 197 533.6 197.5 534.9 198.6 537.4 198.2 539.1 199.8 538.4 201.5 536.8 201.7 537.9 204.3 537.2 205.4 532.8 204.6 533.2 209.2 532.4 209.7 528.7 210.8 532.3 215.2 531.1 215.9 531.8 217.4 530.4 217 529 216.1 525.8 215.8 522.3 215.7 521.6 216 518.3 214.9 517.2 215.5 517.4 217 513.7 216.1 512.4 216.5 512.3 217.6Z" fill="#fee8c8"/>
<path d="M506.4 230.4L506.1 228.8 502.9 227.7 500.4 226.4 498.7 225.1 495.8 223.3 494 220.7 493.2 220.2 490.9 220.3 490 219.8 489.2 217.7 486 216.4 484.6 217.9 483.1 218.8 483.7 220.1 481.4 220.1 478.8 210.6 483.7 209 484.2 209.3 487.9 211.1 489.9 212.1 492.6 214.4 494.9 214 498.4 213.8 501.5 215.7 502.1 218.3 503.2 218.3 504.2 220.5 506.9 220.5 507.9 221.8 508.7 221.8 509 219.9 511.3 218.1 512.3 217.6 513 217.9 511.8 219.5 513.6 220.5 514.9 219.9 517.9 221.2 515.7 223.1 514 222.9 513.2 222.9 512.7 222.2 512.7 221 510.1 221.6 509.9 223.3 509.3 224.7 507.5 224.6 507.2 225.7 509 226.4 509.9 228.3 509.4 230.9 507.6 230.4 506.4 230.4Z" fill="#fee8c8"/>
<path d="M496 234.8L495.3 232.6 493.7 232.5 490.7 230.2 488.9 229.9 486.2 228.6 484.6 228.4 483.8 228.9 482.4 228.8 481.1 230.3 479.3 230.8 478.6 228.9 478.3 226.2 476.5 225.3 476.6 223.6 475.2 223.4 475.2 221.2 477.3 221.9 479 221 477.1 219.5 476.1 218 474.6 218.6 474.8 220.5 473.7 218.9 474.5 218 476.7 217.5 478.3 218.2 480.3 220.2 481.4 220.1 483.7 220.1 483.1 218.8 484.6 217.9 486 216.4 489.2 217.7 490 219.8 490.9 220.3 493.2 220.2 494 220.7 495.8 223.3 498.7 225.1 500.4 226.4 502.9 227.7 506.1 228.8 506.4 230.4 505.8 230.3 504.6 229.6 504.5 230.5 502.8 231 502.8 233.1 501.8 233.9 500.2 234.3 500 235.5 498.4 235.8 496 234.8Z" fill="#fdd49e"/>
<path d="M512.3 217.6L512.4 216.5 513.7 216.1 517.4 217 517.2 215.5 518.3 214.9 521.6 216 522.3 215.7 525.8 215.8 529 216.1 530.4 217 531.8 217.4 531.7 218 528.9 219.4 528.5 220.4 525.9 220.7 525.6 222.4 523.3 222 521.9 222.5 520.3 223.8 520.8 224.4 520.3 225 516.4 225.4 513.5 224.5 511.3 224.7 511 223.2 513.5 223.7 514 222.9 515.7 223.1 517.9 221.2 514.9 219.9 513.6 220.5 511.8 219.5 513 217.9 512.3 217.6Z" fill="#fdd49e"/>
<path d="M509.4 230.9L509.9 228.3 509 226.4 507.2 225.7 507.5 224.6 509.3 224.7 509.9 223.3 510.1 221.6 512.7 221 512.7 222.2 513.2 222.9 514 222.9 513.5 223.7 511 223.2 511.3 224.7 513.5 224.5 516.4 225.4 520.3 225 521.6 227.4 522.2 227.1 523.7 227.7 523.9 228.7 524.6 230.2 522.4 230.2 520.9 230 519.9 231.2 519 231.4 518.4 232 517.3 231.1 516.9 228.9 516.2 228.8 516.2 228 514.9 227.4 514.2 228.3 514.3 229.4 514 229.8 512.7 229.7 512.4 230.9 511.5 230.4 510.1 231.3 509.4 230.9Z" fill="#fdd49e"/>
<path d="M144.8 260.4L143.5 262.7 142.8 264.6 142 268.1 141.6 269.4 141.8 270.8 142.3 272.1 142.4 274.1 143.6 276.1 143.9 277.6 144.7 278.9 147 279.6 147.8 280.7 149.9 279.9 151.6 279.7 153.4 279.2 154.9 278.7 156.5 277.7 157.2 276.1 157.7 273.9 158.2 273.2 159.9 272.5 162.3 271.9 164.3 272 165.7 271.8 166.2 272.3 166 273.6 164.5 275.1 163.8 276.7 164.1 277.2 163.6 278.3 162.8 280.4 162.3 279.7 161.8 279.7 161.4 279.8 160.4 281.3 160 281 159.7 281.2 159.7 281.5 157.6 281.5 155.5 281.5 155.3 283 154.2 283 155 283.9 155.7 284.5 155.9 285 156.3 285.2 156.1 286.1 153.2 286.1 151.9 288.2 152.1 288.7 151.8 289.3 151.7 290.1 149.4 287.3 148.3 286.4 146.5 285.7 145.2 285.9 143.3 286.9 142.1 287.2 140.5 286.5 138.9 286 136.9 284.8 135.2 284.4 132.8 283.2 131.1 282 130.6 281.3 129.3 281.1 127.1 280.3 126.4 279.1 124.2 277.6 123.3 275.9 123 274.7 123.8 274.4 123.6 273.7 124.3 273 124.4 272.1 123.9 270.9 123.8 269.9 123.3 268.5 121.8 265.9 119.9 263.9 119.1 262.3 117.4 261.2 117.2 260.6 117.9 258.9 116.9 258.3 115.9 257.1 115.8 255.2 114.6 255 113.7 253.6 113 252.4 113.1 251.5 112.5 249.6 112.3 247.6 112.7 246.6 111.4 245.5 110.7 245.6 109.6 244.9 108.9 246 108.9 247.2 108.5 249.2 108.9 250.3 110 252.1 110.2 252.7 110.5 252.9 110.6 253.8 111 253.7 111 255.4 111.5 256.1 111.7 257 112.8 258.4 113 260.8 113.4 261.9 113.7 263.2 113.6 264.5 114.7 264.6 115.3 265.8 116 267 115.8 267.5 114.7 268.4 114.3 268.4 114 266.8 112.8 265.3 111.4 264.1 110.4 263.4 110.9 261.5 110.9 260.1 110 259.3 108.7 258.1 108.3 258.4 107.9 257.7 106.7 257.1 105.8 255.6 106 255.4 106.9 255.5 108 254.6 108.4 253.4 107.2 251.5 106.1 250.8 105.8 249.1 105.5 247.4 105.2 245.3 105.1 243 107.7 242.8 110.6 242.5 110.2 243 113.1 244.3 117.5 246.1 121.9 246.1 123.7 246.1 124 245 127.9 245 128.4 246 129.3 246.8 130.2 247.9 130.6 249.3 130.7 250.7 131.7 251.5 133.3 252.3 135.3 250.3 137.1 250.2 138.4 251.2 139 253 139.4 254.6 140.4 256.1 140.5 257.9 140.9 259.1 142.4 259.9 143.9 260.5 144.8 260.4Z" fill="#fee8c8"/>
<path d="M156.3 292.2L155.2 291.7 153.8 291.7 152.8 291.2 151.7 290.1 151.8 289.3 152.1 288.7 151.9 288.2 153.2 286.1 156.1 286.1 156.3 285.2 155.9 285 155.7 284.5 155 283.9 154.2 283 155.3 283 155.5 281.5 157.6 281.5 159.7 281.5 159.4 283.6 158.9 286.6 159.6 286.6 160.3 287 160.5 286.6 161.1 287 160 288 158.8 288.7 158.6 289.2 158.8 289.7 158.2 290.4 157.7 290.6 157.8 290.9 157.3 291.2 156.4 291.8 156.3 292.2Z" fill="#fdbb84"/>
<path d="M159.7 281.5L159.7 281.2 160 281 160.4 281.3 161.4 279.8 161.8 279.7 161.8 280.1 162.2 280.1 162.1 280.8 161.6 282 161.7 282.4 161.4 283.3 161.5 283.6 161.1 284.9 160.6 285.6 160.1 285.7 159.6 286.6 158.9 286.6 159.4 283.6 159.7 281.5Z" fill="#fee8c8"/>
<path d="M162.5 294.2L162.2 293.3 161.5 293.1 161.8 292.1 161.5 291.8 161 291.6 160 291.9 160 291.6 159.3 291.1 158.9 290.6 158.2 290.4 158.8 289.7 158.6 289.2 158.8 288.7 160 288 161.1 287 161.4 287.1 161.9 286.6 162.6 286.6 162.8 286.8 163.1 286.7 164.2 286.9 165.2 286.8 166 286.5 166.3 286.3 167 286.4 167.5 286.6 168.2 286.5 168.6 286.3 169.6 286.6 170 286.7 170.6 287.2 171.2 287.8 172 288.2 172.6 288.9 171.8 288.8 171.4 289.2 170.6 289.5 170 289.5 169.5 289.9 169 289.8 168.7 289.4 168.4 289.4 168.1 290.1 167.9 290 167.8 290.6 166.9 291.3 166.5 291.6 166.2 291.9 165.6 291.4 165 292.1 164.5 292.1 164 292.1 163.9 293.4 163.6 293.5 163.3 294.1 162.5 294.2Z" fill="#fc8d59"/>
<path d="M158.2 290.4L158.9 290.6 159.3 291.1 160 291.6 160 291.9 161 291.6 161.5 291.8 161.8 292.1 161.5 293.1 161.2 293.7 159.9 293.7 159.1 293.4 158.2 292.9 156.9 292.8 156.3 292.2 156.4 291.8 157.3 291.2 157.8 290.9 157.7 290.6 158.2 290.4Z" fill="#ef6548"/>
<path d="M165.8 299.1L165.1 298.3 164.1 297.2 163.7 296.4 162.8 295.5 161.7 294.4 162 294 162.3 294.3 162.5 294.2 163.3 294.1 163.6 293.5 163.9 293.4 164 292.1 164.5 292.1 165 292.1 165.6 291.4 166.2 291.9 166.5 291.6 166.9 291.3 167.8 290.6 167.9 290 168.1 290.1 168.4 289.4 168.7 289.4 169 289.8 169.5 289.9 170 289.5 170.6 289.5 171.4 289.2 171.8 288.8 172.6 288.9 172.3 289.1 172.2 289.7 172.3 290.7 171.7 291.6 171.4 292.6 171.2 293.8 171.3 294.5 171.2 295.6 170.9 295.9 170.6 297 170.7 297.7 170.1 298.4 170.2 299.1 170.5 299.5 169.9 300.1 169.3 299.9 168.9 299.4 168.2 299.1 167.7 299.5 166.2 298.8 165.8 299.1Z" fill="#fc8d59"/>
<path d="M171.7 306.6L170.5 306 170 305.5 170.3 305 170.3 304.5 169.7 303.8 168.8 303.3 168 303 167.9 302.2 167.3 301.7 167.4 302.5 166.9 303.1 166.5 302.4 165.7 302.1 165.5 301.6 165.5 300.8 165.9 300 165.3 299.6 165.8 299.1 166.2 298.8 167.7 299.5 168.2 299.1 168.9 299.4 169.3 299.9 169.9 300.1 170.5 299.5 171 300.9 171.8 302 172.8 303.1 171.9 303.3 171.9 304.4 172.4 304.8 172 305.1 172.1 305.6 171.8 306.1 171.7 306.6Z" fill="#fff7ec"/>
<path d="M184.7 305.5L184.4 305.8 184.8 307.4 184.4 308.2 183.6 308 183.3 309.2 182.6 308.5 182.1 307.1 182.7 306.4 182.2 306.2 181.8 305.3 180.7 304.6 179.6 304.8 179.1 305.7 178.2 306.3 177.7 306.4 177.4 307 178.4 308.4 177.8 308.7 177.4 309.1 176.4 309.2 176 307.7 175.7 308.1 175 308 174.5 306.9 173.6 306.8 173 306.4 172 306.4 171.9 307 171.7 306.6 171.8 306.1 172.1 305.6 172 305.1 172.4 304.8 171.9 304.4 171.9 303.3 172.8 303.1 173.6 304 174.5 304.6 174.7 304.5 175.3 305.2 176.4 305 177.4 304.3 178.9 303.8 179.7 303 181 303.1 180.9 303.4 182.1 303.5 183.1 303.9 183.9 304.7 184.7 305.5Z" fill="#fff7ec"/>
<path d="M177.1 267.5L179.1 267.6 180.8 267.7 182.8 268.6 183.6 269.5 185.8 269.2 186.5 269.8 188.2 271.5 189.5 272.6 190.2 272.6 191.5 273.1 191.3 273.9 192.9 274 194.5 275.1 194.2 275.7 192.6 276 191.1 276.1 189.5 275.9 186.3 276.2 188 274.7 187.1 274 185.7 273.9 185 273.1 184.6 271.6 183.3 271.7 181.3 271 180.7 270.5 177.8 270.1 177.1 269.6 178 268.9 175.8 268.8 174 270.1 173.1 270.2 172.7 270.8 171.5 271.1 170.6 270.8 171.9 270 172.5 269.1 173.6 268.5 174.8 268 176.6 267.7 177.1 267.5Z" fill="#fdbb84"/>
<path d="M196.7 276L198 276.1 200 276.5 200 278 199.7 279 199.1 279.4 199.6 280.2 199.5 280.9 198 280.5 196.9 280.7 195.6 280.5 194.4 281 193.3 280.1 193.6 279.3 195.7 279.7 197.4 279.9 198.2 279.3 197.3 278.2 197.4 277.2 196.1 276.7 196.7 276Z" fill="#ef6548"/>
<path d="M199.5 280.9L199.6 280.2 199.1 279.4 199.7 279 200 278 200 276.5 200.3 276.1 202.1 276.1 203.3 276.8 203.9 276.7 204.2 277.6 205.5 277.6 205.3 278.4 206.3 278.5 207.4 279.4 206.4 280.5 205.4 279.9 204.3 280 203.6 279.9 203.1 280.4 202.2 280.6 202 279.9 201.2 280.3 200.1 282.1 199.5 281.7 199.5 280.9Z" fill="#fff7ec"/>
<path d="M186.3 279.7L187.8 280 188.9 280.6 189.2 281.3 187.6 281.4 186.9 281.8 185.6 281.4 184.4 280.4 184.8 279.8 185.8 279.7 186.3 279.7Z" fill="#fdbb84"/>
<path d="M212 279.7L213.1 279.9 213.5 280.4 212.8 281.1 211.1 281.1 209.8 281.2 209.8 280.1 210.1 279.7 212 279.7Z" fill="#fff7ec"/>
<path d="M188 266L187.5 266.1 187.1 264.6 186.3 263.8 187.1 262.2 187.7 262.3 188.2 264.4 188 266ZM188.5 258.6L186 259 186 258 187.1 257.8 188.5 257.9 188.5 258.6ZM190.3 258.5L189.6 260.4 189.3 260.1 189.5 258.7 188.7 257.7 188.8 257.4 190.3 258.5Z" fill="#fc8d59"/>
<path d="M221 300L222.4 299.6 222.9 299.7 222.7 301.7 220.7 302 220.3 301.7 221 301 221 300Z" fill="#fff7ec"/>
<path d="M425.7 192.5L426.5 192.6 426.9 192 427.5 192.1 429.5 191.9 431 193.3 430.6 193.8 431 194.6 432.6 194.7 433.5 195.8 433.6 196.3 436.3 197.2 437.7 196.8 439.2 198 440.4 198 443.5 198.8 443.7 199.5 443.2 200.9 443.9 202.3 443.8 203.1 441.8 203.3 440.9 204 441.1 205.2 439.5 205.4 438.3 206.2 436.4 206.3 434.8 207.3 435.2 208.9 436.3 209.5 438.4 209.3 438.1 210.3 436 210.7 433.4 212.2 432.1 211.7 432.4 210.5 430 209.7 430.3 209.2 432.1 208.4 431.4 207.8 428.1 207.1 427.9 206.2 426 206.5 425.5 207.9 424.1 209.8 423.1 209.4 422.2 209.8 421.2 209.3 421.7 209 422 208.1 422.4 207.3 422.2 206.9 422.6 206.7 422.8 207 424.1 207.1 424.6 206.9 424.2 206.6 424.2 206.3 423.4 205.6 423 204.5 422.2 204.1 422.2 203.3 421.2 202.6 420.3 202.5 418.7 201.7 417.4 201.9 417 202.3 416.1 202.3 415.7 202.9 414.2 203.1 413.6 203.5 412.5 202.9 411.2 202.9 409.9 202.6 409.1 203.2 408.9 202.5 407.7 201.8 408 200.8 408.5 200.1 408.9 200.2 408.3 199.1 409.8 197 410.8 196.7 410.9 196 409.6 193.8 410.5 193.7 411.5 193 413 193 415.1 193.2 417.4 193.8 418.9 193.8 419.7 194.2 420.4 193.7 421 194.3 422.8 194.2 423.6 194.5 423.5 193.2 424 192.6 425.7 192.5Z" fill="#990000"/>
<path d="M408.7 188L410.5 188 412.5 187 412.7 185.6 414.2 184.8 413.8 183.7 414.9 183.3 416.8 182.4 418.9 183 419.3 183.6 420.2 183.3 422.2 183.9 422.7 185.1 422.4 185.7 423.9 187.4 424.8 187.8 424.8 188.3 426.2 188.7 426.9 189.4 426.2 189.9 424.6 189.8 424.3 190.1 424.9 190.9 425.7 192.5 424 192.6 423.5 193.2 423.6 194.5 422.8 194.2 421 194.3 420.4 193.7 419.7 194.2 418.9 193.8 417.4 193.8 415.1 193.2 413 193 411.5 193 410.5 193.7 409.6 193.8 409.4 192.7 408.6 191.5 409.7 191 409.6 190 408.9 189.1 408.7 188Z" fill="#fdbb84"/>
<path d="M392.8 195L391.8 193.4 391.9 192.5 391.3 191.2 390.5 190.3 391 189.6 390.4 188.3 391.7 187.6 394.6 186.5 397 185.6 398.9 186 399.2 186.7 401 186.7 403.5 187 407 186.9 408.1 187.2 408.7 188 408.9 189.1 409.6 190 409.7 191 408.6 191.5 409.4 192.7 409.6 193.8 410.9 196 410.8 196.7 409.8 197 408.3 199.1 408.9 200.2 408.5 200.1 406.4 199.1 405 199.5 404 199.2 402.9 199.8 401.8 198.9 401 199.2 400.9 199.1 399.8 197.8 398.3 197.7 398 196.9 396.6 196.6 396.4 197.2 395.3 196.7 395.3 196 393.8 195.8 392.8 195Z" fill="#fff7ec"/>
<path d="M407 186.9L406.8 186.3 406.9 185.6 406 185.2 403.9 184.8 403.2 182.7 405.3 182 408.5 182.1 410.3 181.9 410.7 182.4 411.7 182.6 413.8 183.7 414.2 184.8 412.7 185.6 412.5 187 410.5 188 408.7 188 408.1 187.2 407 186.9Z" fill="#fff7ec"/>
<path d="M403.2 182.7L403 180.9 403.7 179.3 405.4 178.5 407.2 180.3 408.7 180.3 408.7 178.4 410.3 178 411.1 178.3 412.9 179.2 414.5 179.2 415.5 179.8 415.9 180.9 416.8 182.4 414.9 183.3 413.8 183.7 411.7 182.6 410.7 182.4 410.3 181.9 408.5 182.1 405.3 182 403.2 182.7Z" fill="#fff7ec"/>
<path d="M408.7 178.4L408.7 177 408.1 177.3 406.7 176.4 406.3 175 408.6 174.4 410.8 174 412.9 174.4 414.8 174.3 415.2 174.8 414.1 176.2 415.1 178.4 414.5 179.2 412.9 179.2 411.1 178.3 410.3 178 408.7 178.4Z" fill="#fff7ec"/>
<path d="M410.9 152.2L411.1 153.7 414 155.2 412.9 156.9 415.5 159.5 414.8 161.4 416.8 163.2 416.5 164.7 419.5 166.3 419.1 167.5 417.7 168.8 414.5 171.9 411.2 172.1 408.1 172.9 405.2 173.4 403.9 172.1 402 171.4 402 169 400.8 166.9 401.4 165.5 402.8 164.1 406.4 161.5 407.5 161.1 407.1 160.1 404.4 159 403.7 158.1 403 154.7 400 153.1 397.6 152.1 398.5 151.5 400.5 152.6 402.7 152.5 404.6 153.1 406 152.1 406.5 150.5 408.9 149.7 411.2 150.6 410.9 152.2Z" fill="#fff7ec"/>
<path d="M383.5 175.8L384.2 174.4 385.6 172.8 385.9 170 384.7 168.8 384.3 165.7 385.2 163.5 387 163.5 387.5 162.6 386.8 161.8 389.1 158.6 390.5 156.1 391.4 154.5 393 154.5 393.3 153.3 396.5 153.6 396.5 152.2 397.6 152.1 400 153.1 403 154.7 403.7 158.1 404.4 159 401.6 159.7 400.2 161.3 400.7 162.7 398.1 164.6 395 166.6 394.1 169.9 395.6 171.6 397.6 172.9 396.2 175.6 394.4 176.2 394.1 180.2 393.3 182.5 390.9 182.3 390 184.3 387.8 184.4 387 182 385.2 179.3 383.5 175.8Z" fill="#fff7ec"/>
<path d="M409 147.5L414.6 149.1 412.6 149.7 414.8 151.1 412.2 151.9 410.9 152.2 411.2 150.6 408.9 149.7 406.5 150.5 406 152.1 404.6 153.1 402.7 152.5 400.5 152.6 398.5 151.5 397.6 152.1 396.5 152.2 396.5 153.6 393.3 153.3 393 154.5 391.4 154.5 390.5 156.1 389.1 158.6 386.8 161.8 387.5 162.6 387 163.5 385.2 163.5 384.3 165.7 384.7 168.8 385.9 170 385.6 172.8 384.2 174.4 383.5 175.8 382.1 174.4 378.6 177.2 376.2 177.7 373.5 176.5 372.7 173.9 371.9 168.4 373.5 166.9 378.2 164.9 381.5 162.5 384.4 159.3 388 154.9 390.7 153.3 394.8 150.5 398.3 149.5 401.1 149.7 403.2 147.9 406.2 148 409 147.5ZM384.8 130.5L385.2 129.8 387.3 129.8 389.3 130.4 394.4 131.8 390.9 132.5 390.4 133.9 389.2 134.3 388.8 135.9 387 136 383.6 134.8 384.8 134.1 382.5 133.6 379.3 132 378 130.5 381.8 129.8 382.7 130.5 384.8 130.5ZM399.7 133.9L396.6 134.7 393.9 134.2 394.8 133.7 393.7 133.1 396.7 132.7 397.5 133.5 399.7 133.9ZM402.2 129.7L399.3 129.2 394.3 129.2 390.2 129.7 391.1 130.6 396.3 131 402.2 129.7Z" fill="#fff7ec"/>
<path d="M382.1 185.3L382 183.3 383.1 182.8 382.6 182.2 383.7 181.7 383.8 180.1 382.9 179.8 382.4 180.6 381.2 180.3 379.2 180.1 378.3 180.8 378.6 182.8 378.5 185.2 379.4 185.4 380.8 185.7 382.1 185.3ZM387.3 183.8L386.3 185.8 384.2 184.4 383.8 183.3 386.6 182.5 387.3 183.8Z" fill="#fff7ec"/>
<path d="M382.1 185.3L382.2 186.3 384.2 186.8 384.2 187.7 386.1 187.3 387.2 186.6 389.5 187.6 390.4 188.3 391 189.6 390.5 190.3 391.3 191.2 391.9 192.5 391.8 193.4 392.8 195 391.9 195.2 391.4 195 390.9 195.4 389.5 195.9 388.8 196.6 387.4 197.1 387.8 197.9 388.1 198.9 389.2 199.5 390.4 200.6 389.8 201.8 389.1 202.1 389.5 203.8 389.3 204.2 388.6 203.7 387.6 203.6 386.2 204.1 384.4 204 384.2 204.6 383.1 203.9 382.5 204.1 380.3 203.3 379.9 203.9 378.1 203.8 378.3 202 379.3 200.3 376.3 199.8 375.4 199.1 375.4 198 375 197.5 375.2 195.7 374.8 193.1 375.9 193.1 376.4 192.2 376.8 189.9 376.4 189 376.8 188.5 378.4 188.4 378.8 188.9 380 187.7 379.5 186.8 379.4 185.4 380.8 185.7 382.1 185.3Z" fill="#fff7ec"/>
<path d="M374.8 189L376.4 189 376.8 189.9 376.4 192.2 375.9 193.1 374.8 193.1 375.2 195.7 374.1 195.2 372.8 194.1 370.9 194.6 369.5 194.4 370.5 193.7 372.1 190 374.8 189Z" fill="#fff7ec"/>
<path d="M369.5 194.4L370.9 194.6 372.8 194.1 374.1 195.2 375.2 195.7 375 197.5 374.5 197.6 374.3 199 372.5 197.8 371.5 198 370.1 196.8 369.1 195.8 368.2 195.8 367.9 194.9 369.5 194.4Z" fill="#fff7ec"/>
<path d="M375 197.5L375.4 198 375.4 199.1 374.8 199.2 374.3 199 374.5 197.6 375 197.5Z" fill="#fff7ec"/>
<path d="M383 217.9L382.4 219.9 381.4 219.4 380.9 217.6 381.3 216.7 382.6 215.7 383 217.9ZM370.1 196.8L371.5 198 372.5 197.8 374.3 199 374.8 199.2 375.4 199.1 376.3 199.8 379.3 200.3 378.3 202 378.1 203.8 377.6 204.3 376.6 204 376.7 204.7 375.3 206.1 375.3 207.3 376.3 206.9 377 208 376.9 208.7 377.6 209.7 376.9 210.5 377.5 212.5 378.6 212.8 378.4 213.9 376.6 215.4 372.4 214.7 369.4 215.5 369.2 217.1 366.7 217.4 364.4 216.2 363.6 216.8 359.7 215.6 358.9 214.6 360 213.1 360.4 207.9 358.3 205.3 356.9 204 353.8 203 353.6 201.1 356.2 200.6 359.6 201.2 359 198.3 360.9 199.4 365.6 197.5 366.2 195.4 367.9 194.9 368.2 195.8 369.1 195.8 370.1 196.8ZM243.6 317.3L242.2 319.7 241.4 321.6 240.5 322.6 239.4 322.8 239.1 322 238.6 321.9 237.9 322.6 236.9 322.1 237.5 321 237.7 319.8 238.1 318.7 237.2 317.1 237.1 315.3 238.4 313.1 239.1 313.4 240.8 314 243.2 316.2 243.6 317.3Z" fill="#fff7ec"/>
<path d="M382.5 204.1L382.6 204.5 382.3 205.2 383.2 205.6 384.3 205.7 384.2 206.7 383.3 207.2 381.8 206.9 381.4 207.9 380.4 208 380 207.6 378.9 208.4 377.9 208.6 377 208 376.3 206.9 375.3 207.3 375.3 206.1 376.7 204.7 376.6 204 377.6 204.3 378.1 203.8 379.9 203.9 380.3 203.3 382.5 204.1Z" fill="#fff7ec"/>
<path d="M397.4 202.6L397.3 203.6 396.2 203.6 396.6 204.2 396.1 205.8 395.7 206.2 393.9 206.3 393 206.9 391.2 206.7 388.3 206 387.8 205.1 385.8 205.6 385.6 206.1 384.3 205.7 383.2 205.6 382.3 205.2 382.6 204.5 382.5 204.1 383.1 203.9 384.2 204.6 384.4 204 386.2 204.1 387.6 203.6 388.6 203.7 389.3 204.2 389.5 203.8 389.1 202.1 389.8 201.8 390.4 200.6 392 201.5 393 200.4 393.7 200.2 395.3 201 396.3 200.9 397.3 201.3 397.1 201.7 397.4 202.6Z" fill="#fff7ec"/>
<path d="M397.3 201.3L396.3 200.9 395.3 201 393.7 200.2 393 200.4 392 201.5 390.4 200.6 389.2 199.5 388.1 198.9 387.8 197.9 387.4 197.1 388.8 196.6 389.5 195.9 390.9 195.4 391.4 195 391.9 195.2 392.8 195 393.8 195.8 395.3 196 395.3 196.7 396.4 197.2 396.6 196.6 398 196.9 398.3 197.7 399.8 197.8 400.9 199.1 400.3 199.1 400 199.5 399.5 199.6 399.5 200.2 399.1 200.3 399.1 200.6 398.4 200.8 397.5 200.8 397.3 201.3Z" fill="#fff7ec"/>
<path d="M408.5 200.1L408 200.8 407.7 201.8 407.3 202.1 405 201.3 404.4 201.4 404 202 403.1 202.3 402.8 202.2 401.9 202.6 401.1 202.7 401 203.2 399.3 203.5 398.5 203.2 397.4 202.6 397.1 201.7 397.3 201.3 397.5 200.8 398.4 200.8 399.1 200.6 399.1 200.3 399.5 200.2 399.5 199.6 400 199.5 400.3 199.1 400.9 199.1 401 199.2 401.8 198.9 402.9 199.8 404 199.2 405 199.5 406.4 199.1 408.5 200.1Z" fill="#fee8c8"/>
<path d="M396.1 205.8L396.6 204.2 396.2 203.6 397.3 203.6 397.4 202.6 398.5 203.2 399.3 203.5 401 203.2 401.1 202.7 401.9 202.6 402.8 202.2 403.1 202.3 404 202 404.4 201.4 405 201.3 407.3 202.1 407.7 201.8 408.9 202.5 409.1 203.2 407.9 203.7 407.2 205.4 406.1 207.2 404.5 207.7 403.2 207.5 401.7 208.2 401 208.6 399.2 208.1 397.6 207 396.9 206.7 396.4 205.8 396.1 205.8Z" fill="#fee8c8"/>
<path d="M391.2 206.7L393 206.9 393.9 206.3 395.7 206.2 396.1 205.8 396.4 205.8 396.9 206.7 395.3 207.4 395.2 208.4 394.5 208.7 394.6 209.4 393.8 209.3 393 208.9 392.7 209.4 391.2 209.3 391.7 209 391.1 207.9 391.2 206.7Z" fill="#fff7ec"/>
<path d="M401.7 208.2L402.3 209.2 403 209.9 402.3 210.9 401.3 210.3 399.9 210.4 398.1 209.9 397.1 210 396.7 210.5 395.9 209.9 395.6 211 396.7 212.2 397.2 213 398.2 214 399.1 214.6 400 215.6 401.9 216.6 401.7 217.1 399.6 216.1 398.4 215.2 396.4 214.4 394.5 212.5 394.9 212.3 393.9 211.2 393.8 210.4 392.4 209.9 391.8 211.1 391.2 210.2 391.2 209.3 392.7 209.4 393 208.9 393.8 209.3 394.6 209.4 394.5 208.7 395.2 208.4 395.3 207.4 396.9 206.7 397.6 207 399.2 208.1 401 208.6 401.7 208.2Z" fill="#fc8d59"/>
<path d="M402.3 210.9L403.1 210.9 402.7 212 403.8 213 403.6 214.2 403.1 214.4 402.7 214.6 402.1 215.2 401.9 216.6 400 215.6 399.1 214.6 398.2 214 397.2 213 396.7 212.2 395.6 211 395.9 209.9 396.7 210.5 397.1 210 398.1 209.9 399.9 210.4 401.3 210.3 402.3 210.9Z" fill="#fc8d59"/>
<path d="M406 209.5L407.4 210.1 407.6 211.1 408.9 211.9 409.5 211.3 410.1 211.6 409.6 212.1 410.1 212.5 409.6 213.1 409.9 214.1 411 215.2 410.3 216 410.1 216.8 410.3 217.1 410 217.5 409 217.5 408.3 217.7 408.2 217.5 408.5 217.2 408.6 216.5 408.3 216.5 407.9 216.1 407.5 215.9 407.2 215.5 406.8 215.4 406.5 215 406.1 215.2 405.9 216 405.4 216.2 405.6 216 404.7 215.4 404 215.2 403.7 214.8 403.1 214.4 403.6 214.2 403.8 213 402.7 212 403.1 210.9 402.3 210.9 403 209.9 402.3 209.2 401.7 208.2 403.2 207.5 404.5 207.7 405.7 208.7 406 209.5Z" fill="url(#hatch)"/>
<path d="M406.7 218.2L406.6 218.7 406.4 218.7 406.1 217.7 405.6 217.5 405.1 216.8 405.4 216.2 405.9 216 406.1 215.2 406.5 215 406.8 215.4 407.2 215.5 407.5 215.9 407.9 216.1 408.3 216.5 408.6 216.5 408.5 217.2 408.2 217.5 408.3 217.7 407.9 217.8 406.7 218.2Z" fill="url(#hatch)"/>
<path d="M404.5 217L404.4 216.5 403.6 217.8 403.8 218.6 403.3 218.4 402.7 217.6 401.7 217.1 401.9 216.6 402.1 215.2 402.7 214.6 403.1 214.4 403.7 214.8 404 215.2 404.7 215.4 405.6 216 405.4 216.2 405.1 216.8 404.5 217Z" fill="#fdbb84"/>
<path d="M406.4 218.7L406.2 219.6 406.6 220.7 407.5 221.3 407.5 222 406.9 222.4 406.8 223.2 405.9 224.5 405.5 224.3 405.5 223.7 404.2 222.8 403.9 221.6 403.9 219.8 404.2 219 403.8 218.6 403.6 217.8 404.4 216.5 404.5 217 405.1 216.8 405.6 217.5 406.1 217.7 406.4 218.7Z" fill="#fc8d59"/>
<path d="M406.4 218.7L406.6 218.7 406.7 218.2 407.9 217.8 408.3 217.7 409 217.5 410 217.5 411.1 218.3 411.5 220 411.1 220.1 410.8 220.6 409.6 220.5 408.9 221.1 407.5 221.3 406.6 220.7 406.2 219.6 406.4 218.7Z" fill="#fdbb84"/>
<path d="M405.9 224.5L406.8 223.2 406.9 222.4 407.5 222 407.5 221.3 408.9 221.1 409.6 220.5 410.8 220.6 411.1 220.1 411.5 220 413 220.1 414.7 219.4 416.3 220.3 418.1 220 418 218.7 419.1 219.4 418.7 221.1 418.2 221.3 416.9 221.3 415.8 221 413.3 221.7 414.9 223.2 413.8 223.6 412.7 223.6 411.4 222.3 411.1 222.8 411.7 224.4 412.9 225.6 412.1 226.2 413.4 227.4 414.5 228.1 414.7 229.6 412.7 228.9 413.4 230.2 412.1 230.5 413.1 232.8 411.6 232.9 409.8 231.7 408.8 229.6 408.3 227.9 407.3 226.7 406.1 225.2 405.9 224.5ZM414.4 234.7L415.7 235.6 417.4 235.4 419 235.6 419 236.1 420.1 235.8 419.9 236.5 416.8 236.7 416.8 236.3 414.1 235.8 414.4 234.7Z" fill="#fff7ec"/>
<path d="M410.1 212.5L410.8 213.6 411.6 213.4 413.2 213.8 416.3 213.9 417.3 213.3 419.6 212.7 421.3 213.6 422.5 213.9 421.6 215 421.1 216.8 421.9 218.3 420.1 217.9 418 218.7 418.1 220 416.3 220.3 414.7 219.4 413 220.1 411.5 220 411.1 218.3 410 217.5 410.3 217.1 410.1 216.8 410.3 216 411 215.2 409.9 214.1 409.6 213.1 410.1 212.5Z" fill="#fff7ec"/>
<path d="M409.1 203.2L409.9 202.6 411.2 202.9 412.5 202.9 413.6 203.5 414.2 203.1 415.7 202.9 416.1 202.3 417 202.3 417.6 202.6 418.3 203.3 419.1 204.4 420.5 205.9 420.8 207 420.7 208.1 421.2 209.3 422.2 209.8 423.1 209.4 424.1 209.8 424.3 210.5 423.4 211 422.7 210.8 422.5 213.9 421.3 213.6 419.6 212.7 417.3 213.3 416.3 213.9 413.2 213.8 411.6 213.4 410.8 213.6 410.1 212.5 409.6 212.1 410.1 211.6 409.5 211.3 408.9 211.9 407.6 211.1 407.4 210.1 406 209.5 405.7 208.7 404.5 207.7 406.1 207.2 407.2 205.4 407.9 203.7 409.1 203.2Z" fill="#fee8c8"/>
<path d="M417 202.3L417.4 201.9 418.7 201.7 420.3 202.5 421.2 202.6 422.2 203.3 422.2 204.1 423 204.5 423.4 205.6 424.2 206.3 424.2 206.6 424.6 206.9 424.1 207.1 422.8 207 422.6 206.7 422.2 206.9 422.4 207.3 422 208.1 421.7 209 421.2 209.3 420.7 208.1 420.8 207 420.5 205.9 419.1 204.4 418.3 203.3 417.6 202.6 417 202.3Z" fill="#fdbb84"/>
<path d="M388.3 206L391.2 206.7 391.1 207.9 391.7 209 390 208.7 388.4 209.6 388.6 210.8 388.4 211.6 389.1 212.9 391.2 214.2 392.4 216.3 394.8 218.4 396.5 218.4 397 219 396.5 219.5 398.5 220.4 400.1 221.2 402 222.6 402.2 223.1 401.9 224 400.6 222.8 398.8 222.3 398 224 399.6 225 399.4 226.3 398.5 226.5 397.5 228.7 396.7 228.9 396.6 228.1 397 226.7 397.4 226.2 396.5 224.7 395.7 223.4 394.8 223 394.1 221.9 392.7 221.4 391.8 220.4 390.2 220.2 388.5 219.1 386.5 217.4 385 215.9 384.2 213.3 383.1 213 381.4 212.2 380.4 212.5 379.3 213.7 378.4 213.9 378.6 212.8 377.5 212.5 376.9 210.5 377.6 209.7 376.9 208.7 377 208 377.9 208.6 378.9 208.4 380 207.6 380.4 208 381.4 207.9 381.8 206.9 383.3 207.2 384.2 206.7 384.3 205.7 385.6 206.1 385.8 205.6 387.8 205.1 388.3 206ZM396.3 228.1L395.6 230.2 396 231 395.6 232.3 393.9 231.3 392.8 231 389.7 229.7 389.9 228.4 392.5 228.6 394.6 228.3 396.3 228.1ZM382.4 220.3L383.8 222.2 383.6 225.6 382.6 225.5 381.8 226.3 380.9 225.6 380.7 222.5 380.2 221 381.4 221.2 382.4 220.3Z" fill="#fff7ec"/>
<path d="M346.8 231.1L346.6 230.2 347.5 229.2 347.8 228.5 347.1 227.7 347.7 226 346.9 224.5 347.8 224.2 347.9 223 348.3 222.6 348.4 220.6 349.4 219.9 348.8 218.6 347.6 218.5 347.2 218.8 346 218.8 345.5 217.6 344.6 218 343.8 218.6 344 216.8 343.2 215.6 346.2 213.8 348.8 214.2 351.6 214.2 353.8 214.7 355.5 214.5 358.9 214.6 359.7 215.6 363.6 216.8 364.4 216.2 366.7 217.4 369.2 217.1 369.3 218.6 367.3 220.3 364.6 220.9 364.4 221.7 363.1 223.2 362.3 225.3 363.1 226.8 361.9 227.9 361.4 229.6 359.8 230.2 358.3 232.2 355.5 232.2 353.4 232.2 352.1 233.1 351.2 234.1 350.2 233.8 349.4 233 348.8 231.5 346.8 231.1Z" fill="#fff7ec"/>
<path d="M343.8 218.6L344.6 218 345.5 217.6 346 218.8 347.2 218.8 347.6 218.5 348.8 218.6 349.4 219.9 348.4 220.6 348.3 222.6 347.9 223 347.8 224.2 346.9 224.5 347.7 226 347.1 227.7 347.8 228.5 347.5 229.2 346.6 230.2 346.8 231.1 345.9 231.7 344.8 231.4 343.7 231.7 344.1 229.6 343.9 228 343 227.8 342.5 226.8 342.7 225.1 343.6 224.1 343.8 223.1 344.3 221.5 344.3 220.4 343.9 219.5 343.8 218.6Z" fill="#fff7ec"/>
<path d="M351.9 186.4L350.8 188.1 349.4 187.6 348.2 187.6 348.6 186.3 348.3 184.9 349.9 184.8 351.9 186.4ZM357.3 176.4L355.2 179 357.1 178.7 359.2 178.7 358.7 180.7 356.9 182.9 358.9 183 360.7 186.2 362.1 186.6 363.3 189.4 363.8 190.4 366.2 190.9 366 192.5 365 193.2 365.8 194.5 364 195.8 361.3 195.8 357.9 196.5 357 196 355.7 197.2 353.8 196.9 352.4 197.9 351.3 197.4 354.3 194.7 356.1 194.2 353 193.8 352.5 192.8 354.6 192 353.5 190.6 353.9 189 356.9 189.2 357.2 187.8 355.9 186.2 353.5 185.8 353.1 185.1 353.8 184 353.2 183.3 352.1 184.5 352.1 182.1 351.2 180.9 352 178.4 353.5 176.4 355 176.6 357.3 176.4Z" fill="#fff7ec"/>
<path d="M350.8 188.1L351.1 189.9 349.5 192.1 345.9 193.6 343.1 193.2 344.9 190.6 344 188 346.8 186.1 348.3 184.9 348.6 186.3 348.2 187.6 349.4 187.6 350.8 188.1Z" fill="#fff7ec"/>
<path d="M337.8 158L337.2 159.5 339 161 336.5 162.8 331.2 164.4 329.6 164.8 327.3 164.5 322.5 163.7 324.4 162.7 320.8 161.6 324 161.1 324 160.5 320.4 159.9 321.9 158.4 324.6 158.1 327 159.6 329.9 158.4 332 159 335 157.8 337.8 158Z" fill="#fff7ec"/>
<path d="M309.6 288.6L309.2 288.1 308.6 288.1 308.2 288.6 308.5 289.2 309.2 289.2 309.6 288.6ZM308.1 284.7L307.6 284.4 306.7 284.4 306.3 284.7 306.7 285 307.6 285 308.1 284.7ZM311 285.2L310.8 284.7 310.4 284.7 310.1 285.2 310.3 285.8 310.8 285.8 311 285.2Z" fill="#fff7ec"/>
<path d="M378.5 327.5L378.3 327 378 327 377.8 327.5 378 327.9 378.3 327.9 378.5 327.5Z" fill="#fff7ec"/>
<path d="M463 358.8L462.8 358 462.3 358 462.1 358.8 462.3 359.6 462.7 359.6 463 358.8ZM465.3 360.1L465.1 359.7 464.7 359.7 464.4 360.1 464.6 360.4 465.1 360.4 465.3 360.1Z" fill="#fc8d59"/>
<path d="M494 381.2L493.8 380.6 493.4 380.6 493.1 381.2 493.3 381.7 493.7 381.7 494 381.2Z" fill="#fff7ec"/>
<path d="M491.4 340.3L491.3 340 490.9 340 490.7 340.3 490.9 340.7 491.2 340.7 491.4 340.3Z" fill="#fff7ec"/>
<path d="M502.3 455L505.1 456 503.5 457.8 501.5 457.5 502.3 455Z" fill="url(#hatch)"/>
<path d="M394.5 234.2L394.3 234 394 234 393.8 234.2 394 234.4 394.3 234.4 394.5 234.2Z" fill="#fff7ec"/>
<path d="M438.5 246.2L439.2 245.6 439.1 245.4 438.5 246.2Z" fill="#fc8d59"/>
<path d="M223.4 291.8L223.3 291.4 223 291.4 222.9 291.8 223 292.1 223.2 292.1 223.4 291.8ZM223.5 289.9L223.4 289.6 223.1 289.6 222.9 289.9 223 290.3 223.3 290.3 223.5 289.9ZM222.6 285.7L222.4 285.3 221.9 285.3 221.7 285.7 221.9 286.2 222.3 286.2 222.6 285.7ZM221.4 296.5L221.3 296.3 221.1 296.3 220.9 296.5 221.1 296.7 221.3 296.7 221.4 296.5ZM226.5 293.7L226.4 293.5 226.2 293.5 226 293.7 226.1 294 226.4 294 226.5 293.7ZM222.8 287.8L222.7 287.5 222.5 287.5 222.3 287.8 222.4 288.2 222.6 288.2 222.8 287.8ZM222.1 283.4L222 283.2 221.8 283.2 221.6 283.4 221.7 283.6 222 283.6 222.1 283.4Z" fill="#fff7ec"/>
<path d="M728.3 310.1L728 309.7 727.6 309.7 727.4 310.1 727.6 310.4 728.1 310.4 728.3 310.1ZM713.3 308.8L713.1 308.6 712.7 308.6 712.6 308.8 712.8 309 713.1 309 713.3 308.8Z" fill="#fff7ec"/>
<path d="M673.5 308.5L673.3 308.1 672.9 308.1 672.8 308.5 673 309 673.4 309 673.5 308.5Z" fill="#fff7ec"/>
<path d="M758.3 309.6L758 309.3 757.4 309.3 757.2 309.6 757.5 309.8 758.1 309.8 758.3 309.6ZM749.6 304.6L749.4 304.4 748.9 304.4 748.7 304.6 749 304.8 749.4 304.8 749.6 304.6Z" fill="#fff7ec"/>
<path d="M763.3 324.5L763.1 324.3 762.6 324.3 762.4 324.5 762.6 324.7 763.1 324.7 763.3 324.5Z" fill="#fff7ec"/>
<path d="M-31.6 364L-32 363.7 -32.8 363.7 -33.2 364 -32.7 364.4 -31.9 364.4 -31.6 364ZM-30.2 364.5L-30.5 364.3 -31 364.3 -31.1 364.5 -30.9 364.8 -30.4 364.8 -30.2 364.5Z" fill="#fff7ec"/>
<path d="M-33.7 383.6L-34 383.4 -34.4 383.4 -34.6 383.6 -34.3 383.9 -33.8 383.9 -33.7 383.6Z" fill="#fff7ec"/>
<path d="M22.8 374.3L22.4 373.9 21.9 373.9 21.7 374.3 22 374.8 22.6 374.8 22.8 374.3Z" fill="#fff7ec"/>
<path d="M532.9 317.2L532.8 316.5 532.5 316.5 532.4 317.2 532.6 317.8 532.8 317.8 532.9 317.2Z" fill="#fff7ec"/>
<path d="M735.8 355.9L735.7 355.7 735.5 355.7 735.3 355.9 735.4 356.1 735.6 356.1 735.8 355.9Z" fill="#fff7ec"/>
<path d="M460.6 285.4L460.3 284.2 459.5 283.5 459.3 282.4 458.1 281.5 456.7 279.3 456 277.1 454.3 275.3 453.2 274.9 451.6 272.4 451.2 270.6 451.2 269 449.7 266.1 448.6 265.1 447.4 264.6 446.5 263.1 446.6 262.5 445.9 261.1 445.2 260.5 444.1 258.6 442.6 256.5 441.3 254.7 440.2 254.7 440.4 253.3 440.5 252.4 440.6 251.3 443.2 251.7 444 250.9 444.5 250 446.1 249.6 446.4 248.7 447.1 248.3 444.6 245.7 448.9 244.4 449.3 244 452 244.7 455.5 246.5 462.4 251.8 466.6 252 468.6 252.2 469.3 253.5 470.8 253.4 472 255.7 473.1 256.3 473.6 257.2 475.3 258.3 475.5 259.4 475.4 260.2 475.8 261.1 476.5 261.9 476.9 262.7 477.3 263.4 478 263.9 478.6 263.7 479.1 264.7 479.3 265.3 480.4 267.9 487.3 269.3 487.7 268.7 488.9 270.6 487.8 275.8 481.2 278.4 474.7 279.4 472.7 280.6 471.2 283.3 470.2 283.8 469.6 282.9 468.7 283 466.5 282.8 466 282.5 463.4 282.6 462.8 282.8 461.8 282.1 461.3 283.4 461.6 284.5 460.6 285.4Z" fill="#fff7ec"/>
<path d="M484.2 284.6L482.6 285.3 482.2 286.4 482.2 287.3 480 288.4 476.4 289.6 474.5 291.5 473.5 291.6 472.8 291.5 471.5 292.6 470.1 293.1 468.1 293.2 467.6 293.4 467.1 294.1 466.5 294.2 466.2 294.9 465 294.9 464.3 295.2 462.7 295.1 462.1 293.5 462.1 292.1 461.6 291.3 461.1 289.4 460.4 288.3 460.8 288.2 460.6 287 460.8 286.5 460.6 285.4 461.6 284.5 461.3 283.4 461.8 282.1 462.8 282.8 463.4 282.6 466 282.5 466.5 282.8 468.7 283 469.6 282.9 470.2 283.8 471.2 283.3 472.7 280.6 474.7 279.4 481.2 278.4 483.3 282.7 484.2 284.6Z" fill="#fdbb84"/>
<path d="M487.7 268.7L487.6 267.7 488.2 266.6 488.1 265.5 489.1 265 488.6 264.6 488.7 262.9 489.8 262.9 491 264.7 492.3 265.6 494 266 495.4 266.5 496.6 268 497.3 268.8 498.1 269.2 498.2 269.8 497.5 271.3 497.2 272 496.3 272.9 495.6 274.7 494.6 274.5 494.2 275.2 493.9 276.5 494.4 278.2 494.2 278.6 493.1 278.6 491.8 279.5 491.7 280.8 491.2 281.4 489.8 281.3 488.9 282 489 283.1 488 283.8 486.7 283.5 485.2 284.4 484.2 284.6 483.3 282.7 481.2 278.4 487.8 275.8 488.9 270.6 487.7 268.7ZM489.3 260.8L488.7 259.9 489.3 259.1 489.6 259.3 489.5 260.4 489.3 260.8Z" fill="#fff7ec"/>
<path d="M479.1 264.7L479.5 264.6 479.7 265.3 481.4 264.9 483.3 264.9 484.6 265 486 263.2 487.5 261.6 488.7 259.9 489.3 260.8 489.8 262.9 488.7 262.9 488.6 264.6 489.1 265 488.1 265.5 488.2 266.6 487.6 267.7 487.7 268.7 487.3 269.3 480.4 267.9 479.3 265.3 479.1 264.7Z" fill="#fff7ec"/>
<path d="M477.3 263.4L476.9 261.4 477.4 260.1 478 259.8 478.7 260.6 478.9 262.1 478.6 263.7 478 263.9 477.3 263.4Z" fill="#fff7ec"/>
<path d="M469.4 249.7L470 250.8 469.9 251.4 470.8 253.4 469.3 253.5 468.6 252.2 466.6 252 467.9 249.5 469.4 249.7Z" fill="#fdd49e"/>
<path d="M461.5 234L463.1 234.8 463.5 236.3 462.5 237.2 462.3 239.2 464.2 241.7 467.1 243.2 468.5 245.1 468.4 247 469.1 247 469.3 248.4 470.7 249.8 469.4 249.7 467.9 249.5 466.6 252 462.4 251.8 455.5 246.5 452 244.7 449.3 244 448 240.8 452.5 238.1 452.9 234.9 452.4 233 453.5 232.3 454.3 230.7 455.2 230.3 457.8 230.6 458.6 231.3 459.6 230.9 461.5 234Z" fill="#fc8d59"/>
<path d="M441.5 242.5L441.4 242.5 441.7 242.1 441.5 241 441.9 239.6 443 238.6 442.5 237.6 441.5 237.5 441 235.5 441.4 234.4 441.9 233.8 442.4 233.2 442.4 231.8 443.1 232.3 445.4 231.6 446.6 232.1 448.4 232.1 450.8 231.1 451.9 231.1 454.3 230.7 453.5 232.3 452.4 233 452.9 234.9 452.5 238.1 448 240.8 444 243.6 441.5 242.5Z" fill="#990000"/>
<path d="M441.2 243.4L441.5 242.5 444 243.6 448 240.8 449.3 244 448.9 244.4 444.6 245.7 447.1 248.3 446.4 248.7 446.1 249.6 444.5 250 444 250.9 443.2 251.7 440.6 251.3 440.5 250.9 441.2 246.7 441.1 245.7 441.3 245 441.2 243.4Z" fill="#fdd49e"/>
<path d="M441.5 242.5L441.2 243.4 440.3 243 440.1 244.7 440.6 245 440.1 245.4 440.1 246.1 441.1 245.7 441.2 246.7 440.5 250.9 438.7 246.4 439.2 245.6 439 245.4 439.5 244.2 439.7 242.2 440 241.6 440 241.5 440.8 241.5 440.9 241.1 441.5 241 441.7 242.1 441.4 242.5 441.5 242.5Z" fill="#fff7ec"/>
<path d="M441.2 243.4L441.3 245 441.1 245.7 440.1 246.1 440.1 245.4 440.6 245 440.1 244.7 440.3 243 441.2 243.4Z" fill="#fc8d59"/>
<path d="M441.5 241L440.9 241.1 440.8 241.5 440 241.5 440.6 239.4 441.5 237.6 441.5 237.5 442.5 237.6 443 238.6 441.9 239.6 441.5 241Z" fill="#fdd49e"/>
<path d="M459.6 230.9L458.6 231.3 457.8 230.6 455.2 230.3 454.3 230.7 451.9 231.1 450.8 231.1 448.4 232.1 446.6 232.1 445.4 231.6 443.1 232.3 442.4 231.8 442.4 233.2 441.9 233.8 441.4 234.4 440.5 233.2 441.2 232.2 439.9 232.4 438 231.8 436.7 233.3 433.4 233.6 431.5 232.2 429.2 232.2 428.8 233.2 427.3 233.5 425.1 232.2 422.7 232.2 421.2 229.6 419.5 228.2 420.3 226.1 418.8 224.9 420.9 222.4 424.2 222.3 424.8 220.3 428.9 220.7 431.2 219 433.6 218.3 437 218.2 441 220 444.2 221 446.6 220.6 448.5 220.9 450.7 219.5 453 219.4 455.2 220.7 455.8 221.6 455.8 222.8 457.5 223.5 458.5 224.2 457.2 225 458.3 228 458.1 228.8 459.6 230.9ZM418 218.7L420.1 217.9 421.9 218.3 422.3 219.3 424.3 220.1 424 220.8 421.5 220.9 420.6 221.7 419 223.1 418.2 221.9 418.2 221.3 418.7 221.1 419.1 219.4 418 218.7Z" fill="#fdbb84"/>
<path d="M479.3 230.8L481.1 230.3 482.4 228.8 483.8 228.9 484.6 228.4 486.2 228.6 488.9 229.9 490.7 230.2 493.7 232.5 495.3 232.6 496 234.8 495.8 238.1 495.5 240 496.6 240.4 495.9 241.8 497 243.9 497.5 245.6 499.2 246 499.7 247.7 498.1 250.1 499.4 251.4 500.6 253 502.9 254.2 503.3 256.5 504.4 256.9 504.7 258.1 501.7 259.5 501.2 262.5 496.9 261.7 494.4 261.1 491.8 260.8 490.5 257.6 489.3 257.1 487.7 257.6 485.6 258.8 482.7 258 480.2 256 478 255.2 476.2 252.7 474.1 249.2 473 249.7 471.4 248.8 470.7 249.8 469.3 248.4 469.1 247 468.4 247 468.5 245.1 467.1 243.2 464.2 241.7 462.3 239.2 462.5 237.2 463.5 236.3 463.1 234.8 461.5 234 459.6 230.9 458.1 228.8 458.3 228 457.2 225 458.5 224.2 459 225.2 460.3 226.4 461.8 226.8 462.6 226.7 464.8 224.8 465.5 224.6 466.3 225.3 465.8 226.6 467.4 228 467.9 227.9 469 229.8 471.1 230.3 472.8 231.6 476 232.1 479.2 231.4 479.3 230.8Z" fill="#fdbb84"/>
<path d="M496 234.8L498.4 235.8 500 235.5 500.2 234.3 501.8 233.9 502.8 233.1 502.8 231 504.5 230.5 504.6 229.6 505.8 230.3 506.4 230.4 507.6 230.4 509.4 230.9 510.1 231.3 511.5 230.4 512.4 230.9 512.7 229.7 514 229.8 514.3 229.4 514.2 228.3 514.9 227.4 516.2 228 516.2 228.8 516.9 228.9 517.3 231.1 518.4 232 519 231.4 519.9 231.2 520.9 230 522.4 230.2 524.6 230.2 525.2 231 524.1 231.3 523.1 231.7 520.7 232 518.5 232.6 517.5 233.7 518.3 234.8 518.9 236.1 518.1 237.2 518.4 238.2 518 239.2 515.9 239.1 517.2 240.8 515.9 241.5 515.3 243.1 515.8 244.6 515.1 245.4 514.2 245.1 512.6 245.5 512.5 246.2 510.9 246.2 509.9 247.7 510.2 249.9 507.5 251 505.9 250.8 505.6 251.3 504.2 251 502 251.4 498.1 250.1 499.7 247.7 499.2 246 497.5 245.6 497 243.9 495.9 241.8 496.6 240.4 495.5 240 495.8 238.1 496 234.8Z" fill="#990000"/>
<path d="M525.2 231L527.2 232.2 528.4 234.2 532.2 235.2 530.7 237.4 528.4 237.8 524.9 237.2 524.1 238.3 525.4 240.6 526.6 242.4 528.7 243.7 527.1 245.2 527.6 247.1 526 249.7 525.1 252.3 523.2 255.1 520.6 254.9 518.6 257.6 520.2 258.8 520.8 260.8 522.2 262.1 522.9 264.4 518 264.4 516.7 266.1 515 265.5 514.1 263.6 512.1 261.6 508 262.1 504.4 262.1 501.2 262.5 501.7 259.5 504.7 258.1 504.4 256.9 503.3 256.5 502.9 254.2 500.6 253 499.4 251.4 498.1 250.1 502 251.4 504.2 251 505.6 251.3 505.9 250.8 507.5 251 510.2 249.9 509.9 247.7 510.9 246.2 512.5 246.2 512.6 245.5 514.2 245.1 515.1 245.4 515.8 244.6 515.3 243.1 515.9 241.5 517.2 240.8 515.9 239.1 518 239.2 518.4 238.2 518.1 237.2 518.9 236.1 518.3 234.8 517.5 233.7 518.5 232.6 520.7 232 523.1 231.7 524.1 231.3 525.2 231Z" fill="#fdd49e"/>
<path d="M450.7 219.5L450.9 218.4 450 216.6 448.6 215.7 447.4 215.4 446.5 214.6 446.7 214.3 448.5 214.7 451.7 215.1 454.8 216.4 455.3 216.9 456.4 216.5 458.5 217 459.4 218.1 460.8 218.7 460.4 219 461.7 220.4 461.4 220.7 460.3 220.6 458.6 219.8 458.1 220.2 455.2 220.7 453 219.4 450.7 219.5Z" fill="#fc8d59"/>
<path d="M455.2 220.7L458.1 220.2 458.7 220.9 459.6 221.4 459.3 222 460.6 222.9 460.1 223.8 461.2 224.5 462.2 224.9 462.6 226.7 461.8 226.8 460.7 225.3 460.6 224.9 459.7 224.9 458.9 224.2 458.5 224.2 457.5 223.5 455.8 222.8 455.8 221.6 455.2 220.7Z" fill="#fc8d59"/>
<path d="M460.8 218.7L461.4 218.7 463.2 220.3 464.2 220.5 464.4 219.8 465.5 218.8 466.9 220.2 468.3 222 469.3 222.1 470.1 222.8 468.4 223 468.5 225.1 468.3 226 467.6 226.6 467.9 227.9 467.4 228 465.8 226.6 466.3 225.3 465.5 224.6 464.8 224.8 462.6 226.7 462.2 224.9 461.2 224.5 460.1 223.8 460.6 222.9 459.3 222 459.6 221.4 458.7 220.9 458.1 220.2 458.6 219.8 460.3 220.6 461.4 220.7 461.7 220.4 460.4 219 460.8 218.7ZM458.9 224.2L459.7 224.9 460.6 224.9 460.7 225.3 461.8 226.8 460.3 226.4 459 225.2 458.5 224.2 458.9 224.2Z" fill="#ef6548"/>
<path d="M438.1 234.8L436.7 235.9 437 236.6 434.9 237.7 433.8 237.3 433.2 236.3 434.4 236.2 434.6 235.5 436.2 235.6 438.1 234.8Z" fill="#fff7ec"/>
<path d="M171.8 199.3L171.5 200.7 171.9 201.2 173.2 201.3 175.1 201.7 176.7 202.5 178.5 202.2 180.7 202.8 181.4 202.8 183.5 202.1 185 203 186.5 204 187.8 204.9 189.1 205.7 189 206.3 189.4 206.6 189.1 206.9 189.6 206.9 190.1 206.7 190 207.3 190.2 207.7 190.8 207.7 191 208 190.5 208.5 192.2 209.7 191.7 212 191.2 214.2 190 215.8 188.5 217.2 187.7 218.1 187.6 218.4 187.7 218.7 188.2 219.1 188.8 219.1 191.7 217.8 194 217.4 197.2 216.1 197.4 215.8 197.5 215 197.3 214.5 198.4 214.1 200.5 214.1 202.4 214.1 203.4 213.1 203.8 212.9 206.6 211 207.8 210.5 210.9 210.5 214.7 210.5 215.2 209.9 215.9 209.8 216.9 209.4 218 208.2 219.3 206.2 221.6 204.3 222 204.9 223.6 204.5 224.2 205.3 223 208.7 223.9 210.2 224 211 221.3 212.3 218.9 213.2 216.5 213.9 214.8 215.5 214.3 216.1 213.8 217.4 214.1 218.8 214.9 218.9 215 217.9 215.5 218.5 215.1 219.2 213.5 219.7 212.5 219.6 210.8 220.1 209.9 220.2 208.6 220.3 206.6 221.1 209.8 220.6 210.3 221.1 207.1 221.9 205.8 221.9 205.9 221.5 205 222.3 205.6 222.4 204.6 224.2 202.5 226.3 202.5 225.6 202.1 225.4 201.6 224.8 201.6 226.2 202 226.7 201.7 227.6 200.7 228.7 198.9 230.7 198.8 230.6 199.9 228.9 199.1 227.9 199.5 225.7 198.8 226.8 198.7 228.5 197.4 228.1 198.7 228.9 198.1 231.4 198.6 231.6 198.6 232.5 198.2 235.1 196.3 237 193.9 237.8 192 239.3 190.9 239.5 189.5 240.5 189 241.4 186.2 243.1 184.6 244.3 183.2 245.9 182.4 247.7 182.4 249.5 182.7 251.8 183.3 253.6 183.1 254.8 183.6 257.8 183.2 259.6 183 260.6 182.1 262.2 181.4 262.5 180.4 262.2 180.2 261 179.4 260.4 178.7 258.2 178 256.2 177.8 255.2 178.6 253.4 178.3 252 177.1 249.8 176.3 249.4 173.8 250.6 173.4 250.4 172.6 249.2 171.4 248.6 168.8 248.9 166.9 248.6 165.1 248.8 164.1 249.2 164.4 249.9 164.1 251 164.4 251.5 163.9 251.8 163.2 251.4 162.2 251.9 160.6 251.9 159.3 250.5 157.3 250.8 155.8 250.2 154.4 250.4 152.4 251 149.9 252.9 147.4 254.1 145.9 255.3 145.1 256.5 144.7 258.3 144.6 259.5 144.8 260.4 143.9 260.5 142.4 259.9 140.9 259.1 140.5 257.9 140.4 256.1 139.4 254.6 139 253 138.4 251.2 137.1 250.2 135.3 250.3 133.3 252.3 131.7 251.5 130.7 250.7 130.6 249.3 130.2 247.9 129.3 246.8 128.4 246 127.9 245 124 245 123.7 246.1 121.9 246.1 117.5 246.1 113.1 244.3 110.2 243 110.6 242.5 107.7 242.8 105.1 243 105.3 241.6 104.4 240.1 103.5 239.8 103.5 239.1 102.4 238.9 101.9 238.2 99.9 238 99.6 237.6 99.9 236.1 98.9 233.5 98.7 229.9 99.1 229.3 98.5 228.4 97.9 226.2 98.6 224.1 98.2 222.7 99.8 220.5 101 218.3 101.4 216.3 103.7 213.9 105.3 211.5 107 209.2 108.7 205.8 109.5 203.6 109.6 202.4 110.2 201.9 112.6 202.8 112.1 205.2 113.1 204.5 114.1 202.4 114.7 200.3 120.5 200.3 126.5 200.3 128.4 200.3 134.6 200.3 140.6 200.3 146.6 200.3 152.7 200.3 159.5 200.3 166.5 200.3 170.6 200.3 171.1 199.3 171.8 199.3ZM107 147.2L108.8 147.6 108.6 148.6 110 148.2 112.5 148.3 111.7 148.8 113.7 149.2 115.7 148.9 118.3 149.6 121.2 149.8 122.1 150.1 124.8 149.8 126.4 150.4 127.9 150.7 117.9 159 103.3 172.3 105 172.4 106.2 173.1 106.4 174.1 106.5 175.7 109.6 174.4 112.2 173.6 112 174.8 112.3 175.8 113 176.9 112.5 178.7 111.9 181.4 113.8 183 112.5 184.6 110.5 185.7 110.2 184.8 109.2 184 110.5 181.9 109.8 179.9 111 177.6 109.3 177.5 106.4 177.4 104.9 176.7 103.5 174.2 102.2 173.7 99.8 172.9 97.1 173.1 94.6 172 93.5 171 90.9 171.5 89.5 173.1 88.3 173.3 85.6 173.8 83.1 174.6 80.5 175.1 81.8 173.7 85.2 171.3 88 170.6 88.2 170 84.4 171.3 81.3 172.9 76.7 174.6 76.8 175.8 73.1 177.6 70 178.6 67.3 179.3 65.7 180.4 61.4 181.7 59.6 182.8 56.2 183.9 55.1 183.7 52.6 184.4 49.7 185.2 47.2 186 43.2 186.7 43.3 186.3 46.7 185.2 49.4 184.4 52.8 183.1 55.5 182.8 57.5 181.8 61.8 180.3 62.7 179.8 65 179 67.4 177.1 70 175.7 67 176.4 66.8 176 64.8 176.9 65 175.7 63.5 176.5 64.2 175.3 61.2 176.3 60.1 176.3 61.6 174.8 63 174 62.8 173.1 59.8 173.6 59.6 172.4 59 171.9 60.7 170.5 60.5 169.5 62.9 168.1 66.1 166.8 68.2 165.6 69.9 165.5 70.7 165.8 73.5 164.7 74.6 164.9 76.8 164.2 77.9 163.1 77.4 162.7 79.8 161.8 78.7 161.8 76.2 162.3 75 162.9 74.3 162.3 71.4 162.6 69.6 162 70.1 161.1 69.7 159.8 73.4 158.8 78.8 157.7 80.2 157.7 78.5 158.9 82.3 158.8 82.7 157.4 81.8 156.5 82.1 155.4 81.8 154.4 80.5 153.7 83.1 152.6 86.2 152.5 89.8 151.5 91.7 150.4 95 149.4 96.9 149.1 101.5 148.2 102.8 148.3 107 147.2ZM9.1 278.2L8.6 278.6 8.2 278.3 8.4 277.5 8.3 276.6 8.4 276.3 8.9 275.9 8.9 275.3 9.1 275.1 9.3 275.1 10 275.6 10.4 275.8 10.7 276.2 11 277.1 10.9 277.2 9.9 277.8 9.1 278.2ZM8.8 274.1L8 274.3 7.8 273.7 7.6 273.5 7.6 273.4 7.9 273.1 8.6 273.4 9.1 273.8 8.8 274.1ZM5.7 272.3L5.5 272.5 5.4 272.5 4.6 272.4 4.5 271.8 4.4 271.7 5.1 271.3 5.3 271.5 5.7 272.3ZM2.3 270.6L2 270.9 1.3 270.4 1.5 270.2 1.9 269.9 2.4 270 2.3 270.6ZM72.5 180.3L68.6 181.3 70.1 179.6 73.4 177.9 76.4 177.9 72.5 180.3ZM57.5 164.1L58.1 165.5 61.3 165.3 59.9 164.6 57.5 164.1Z" fill="#fff7ec"/>
<path d="M232.2 206.6L233.6 206.9 235.5 206.8 234.2 207.9 233.4 208.1 231.1 207 230.9 206.1 231.9 205.3 232.2 206.6ZM238.1 200.1L237.1 200.1 234.8 199.3 233.3 198.1 234.1 197.9 236.5 198.5 238.2 199.6 238.1 200.1ZM112.5 201.6L111.3 201.9 108.7 200.8 108.7 199.9 107.5 199 107.7 198.2 105.9 197.8 106.1 196.4 106.7 195.8 108.4 196.4 109.4 196.8 111.1 197 111.1 197.9 111.3 199.1 112.6 200.2 112.5 201.6ZM250.8 196L248.8 198.3 250.4 197.4 251.5 197.9 250.6 198.8 252.1 199.5 253.3 198.9 255 199.7 253.9 201.5 255.4 201.1 255.3 202.5 255.5 204.1 254 206.3 253.1 206.4 251.9 205.9 252.9 203.8 252.4 203.5 249.4 205.7 248.2 205.6 250 204.4 248.2 203.8 246 204 242.1 203.9 242 203.1 243.5 202.2 242.8 201.5 245 200 248.4 196 250.1 194.5 252.1 193.7 253 193.8 252.4 194.5 250.8 196ZM103.3 172.3L117.9 159 127.9 150.7 130.3 151.3 131.7 152.3 133.2 152.5 135.7 151.6 138.6 150.9 140.8 151.2 144.4 150.2 147.7 149.7 147.8 150.6 149.7 150.1 151.2 149 152.1 149.3 152.7 151.2 156.6 149.7 154.9 151.4 157.4 151.1 158.7 150.4 160.6 150.5 162.2 151.5 165.2 152.3 167.2 152.6 169 152.5 170.1 153.6 166.6 154.7 169.3 155.2 174.1 155 175.9 154.6 176.5 155.9 179.4 154.8 178.5 153.8 180.4 153.1 182.5 153 184.1 152.7 184.9 153.3 185.5 154.5 187.6 154.3 189.7 155.3 192.7 155 195.1 155 196.1 153.6 197.9 153.2 199.9 154 198.2 156.1 200.7 154.3 202 154.4 204.6 152.1 204 150.8 202.8 149.9 205.1 147.5 208.4 146 210.3 146.3 211.1 147.2 211.2 149.7 208.8 150.8 211.6 151.2 209.8 153.5 213.4 151.7 214.3 153.2 212.5 154.8 213.1 156.3 216 154.7 218.7 152.8 220.6 150.4 222.8 150.5 225.1 150.8 226.5 151.9 225.8 153 223.8 154.2 224.1 155.4 223.2 156.5 218.7 158.1 216 158.4 214.7 157.8 213.4 158.9 210.4 160.8 209.1 161.8 206 163.4 203.4 163.6 201.3 164.5 200.1 166.1 197.8 166.4 194.2 168.3 190.4 170.9 188.3 172.8 186.3 175.6 188.8 176 188.2 178.3 187.9 180.1 190.8 179.7 193.7 180.7 195 181.6 195.7 182.8 197.7 183.5 199.2 184.5 202.3 184.7 204.3 184.9 202.8 187 202.1 189.5 202.1 192.3 203.9 194.7 205.8 193.9 208.1 191.3 209 187.4 208.3 186.1 212 184.9 215.1 183.2 217 181.5 217.7 179.9 217.5 177.8 216.3 176 219.9 173.4 220.3 171.3 221.9 167.6 223.5 167 226.2 167.7 227.9 167.9 229.7 167.3 231 168.1 232.5 169.4 232.5 170.4 235.7 170.5 234.6 172.6 233.7 175.6 235.2 176 235.9 177.4 239.2 176.1 242.3 173.4 244 172.3 244.5 174.4 245.5 177.5 246.3 180.4 244.9 182 246.9 183.3 248.1 184.8 250.9 185.4 251.9 186.2 251.9 188.3 253.3 188.6 253.7 189.6 252.9 192.4 251.2 193.3 249.4 194.2 245.9 195.1 242.6 197.2 239.1 197.6 235 197 232 197 229.9 197.2 227.5 199 224.5 200.1 220.4 203.5 217.2 205.9 219.1 205.5 223.6 202.1 228.6 200 231.7 199.7 233 201 230.5 202.7 230.3 205.4 230.3 207.4 232.6 208.7 236.1 208.3 239 205.4 238.6 207.3 239.7 208.2 236.6 209.9 231.6 211.4 229.2 212.4 226.3 214.3 224.7 214.1 225.4 211.9 229.6 209.8 226.3 209.9 223.9 210.2 223 208.7 224.2 205.3 223.6 204.5 222 204.9 221.6 204.3 219.3 206.2 218 208.2 216.9 209.4 215.9 209.8 215.2 209.9 214.7 210.5 210.9 210.5 207.8 210.5 206.6 211 203.8 212.9 203.4 213.1 202.4 214.1 200.5 214.1 198.4 214.1 197.3 214.5 197.5 215 197.4 215.8 197.2 216.1 194 217.4 191.7 217.8 188.8 219.1 188.2 219.1 187.7 218.7 187.6 218.4 187.7 218.1 188.5 217.2 190 215.8 191.2 214.2 191.7 212 192.2 209.7 190.5 208.5 191 208 190.8 207.7 190.2 207.7 190 207.3 190.1 206.7 189.6 206.9 189.1 206.9 189.4 206.6 189 206.3 189.1 205.7 187.8 204.9 186.5 204 185 203 183.5 202.1 181.4 202.8 180.7 202.8 178.5 202.2 176.7 202.5 175.1 201.7 173.2 201.3 171.9 201.2 171.5 200.7 171.8 199.3 171.1 199.3 170.6 200.3 166.5 200.3 159.5 200.3 152.7 200.3 146.6 200.3 140.6 200.3 134.6 200.3 128.4 200.3 126.5 200.3 120.5 200.3 114.7 200.3 114.4 200.3 112.2 197.8 111.5 196.7 108.7 195.7 109.2 193.5 110.7 191.9 109 190.8 110.3 188.8 109.4 187 110.5 185.7 112.5 184.6 113.8 183 111.9 181.4 112.5 178.7 113 176.9 112.3 175.8 112 174.8 112.2 173.6 109.6 174.4 106.5 175.7 106.4 174.1 106.2 173.1 105 172.4 103.3 172.3ZM235.8 145L238 144.2 240.7 145.3 242.2 146.3 241.8 147.2 245.1 146.7 245.9 148.1 249.3 149 250.2 149.8 250.6 151.9 246.9 152.9 250 154.4 252.4 154.9 253.8 156.9 256.4 157.1 255 158.7 250.6 161.3 249 160.3 247.4 158.2 245 158.4 244.1 159.7 245.2 161.1 247 162.1 247.4 162.8 247.4 165.1 245.9 166.7 244 166.1 240.5 164.2 241.9 166.2 243.1 167.7 243 168.5 238.6 167.5 235.4 166.2 233.9 165 234.9 164.4 232.9 163.2 231 162.1 230.6 162.7 225.3 163.1 224.3 162.3 226.5 160.6 229.8 160.6 233.6 160.3 233.5 159.5 234.8 158.3 238.4 156.1 238.5 155.1 238.4 154.4 236.4 153.3 233.5 152.5 235 152 234.1 150.6 232.8 150.5 232 149.7 230.6 150.4 227.4 150.7 221.7 150.2 218.7 149.5 216.3 149.2 215.5 148.4 218.1 147.5 215.8 147.4 217.1 145.3 220.1 143.4 222.5 142.5 227.1 142 224.7 143.3 224.8 144.7 227.8 143 232.5 142.1 233.5 144.3 232.1 145.7 235.8 145ZM179.4 143L180.6 143.4 178.6 144.4 182.9 143.8 184 144.8 187 143.8 187.7 144.4 186.8 146.5 188.5 145.6 189.7 143.5 191.4 143.2 192.7 143.5 193.6 144.4 192.4 146.4 191.4 147.9 193.1 149 195.2 150 194.1 151 191.2 151.2 191.5 152 190.2 152.8 187.5 152.5 185.2 151.9 183.1 152 179.2 152.8 174.6 153.1 171.4 153.3 171.5 152.3 169.8 151.7 168.1 151.9 167.8 150.2 169.2 149.9 172.2 149.6 174.4 149.7 176.9 149.3 174.3 148.8 170.6 149 168.3 148.9 168.3 148.1 173.1 147.3 170.5 147.3 168.3 146.7 171.5 145.1 173.6 144.3 179.4 143ZM172.3 140.7L173.9 141.1 177.8 141.2 178.6 141.8 179.3 142.7 176.7 143.2 171 144.7 167.2 146.2 166.1 147.1 160.6 148.1 160.9 147.2 158.5 146.1 160.3 145.2 163.3 143.6 166.4 142.2 166.5 141 172.3 140.7ZM269.4 124.8L277.4 126 276.9 126.5 273.3 126.6 269.7 127 268.1 127.3 271.1 127.3 266.9 128.3 264.1 128.8 260.3 130.2 257 130.5 255.7 130.9 251.1 131.1 252.9 131.3 251.5 131.7 251.8 132.6 249.8 133.3 246.9 133.8 245.5 134.6 242.8 135.1 242.6 135.6 245.3 135.5 244.8 136 239.7 137.2 236.2 136.6 231.4 136.9 229.4 136.7 226.6 136.6 227.4 135.6 230.7 135.2 231.5 133.8 232.6 133.7 235.6 134.5 234.9 133.3 233 132.9 235 132.2 238.1 131.7 239.2 131.1 238 130.3 238.5 129.4 242.4 129.5 243.3 129.7 246.2 129 243.2 128.9 238.1 129 236.3 128.4 236 127.7 234.9 127.2 235.3 126.7 237.8 126.4 239.5 126.3 242.5 126.1 245.3 125.5 246.9 125.6 247.9 126 249.9 125.2 252 124.9 254.7 124.8 258.9 124.7 259.5 124.9 263.7 124.6 266.5 124.7 269.4 124.8ZM239.9 139.5L237 140.3 224.5 140.8 218.7 139.9 221.4 137.7 226.7 136.9 233.3 136.7 238.5 137.3 239.9 139.5ZM219.9 141.8L215.4 141.8 210.4 143.7 210.1 145.6 212.4 145.1 214.3 144.3 219.9 141.8ZM212.9 167.9L209.8 164.3 213.1 159.7 217.1 158.8 218.1 162 220.6 162.7 217.1 164.8 212.9 167.9ZM198.5 136.3L190.9 138.5 183.3 139.5 180.2 139.1 185.1 137.1 190.5 137.3 191.7 138.5 194.5 138.5 198.5 136.3ZM237.4 129.7L231.3 133 225.5 133 225.1 131 226.3 128.8 231.6 127.8 235.7 128.1 237.4 129.7ZM184.9 135.9L178.4 137.3 174.7 137.3 179.6 135.7 184 135 184.9 135.9ZM204.2 141.9L205.6 142.3 208.7 142.1 208.5 142.7 206 143.7 207.6 144.6 205.5 146.5 202 147.3 200.6 147.2 200.3 146.3 197.9 144.7 198.6 144 201.6 144.3 201.2 142.9 204.2 141.9ZM213.4 136.1L212.4 138.1 207.9 138.9 204.7 138.3 207.7 136.7 213.4 136.1ZM216.3 138.3L216.6 139.5 212.5 139.7 213.3 138.5 216.3 138.3ZM206.4 134.4L203.3 135.7 201.7 135.3 206.4 134.4ZM107.8 190.2L103.1 190 104 187.7 106.5 187.5 107.8 190.2Z" fill="#fff7ec"/>
<path d="M298.5 125.5L303.8 124.6 308.5 124.7 310.6 124.2 315.4 124 326.2 124.2 334.3 125.4 331.5 126 326.2 126.1 318.7 126.2 319.3 126.5 324.3 126.3 328.2 126.9 331.1 126.4 332.1 126.9 330.2 127.9 334 127.3 340.9 126.7 345.1 127 345.7 127.7 339.7 128.9 338.8 129.2 334.2 129.5 337.5 129.6 335.5 131 334 132.2 333.5 134.3 335 135.6 332.6 135.6 330 136.3 332.5 137.3 332.5 139 330.8 139.2 332.4 141 328.9 141.1 330.6 142 329.9 142.7 327.6 143 325.4 143 327 144.4 326.8 145.4 323.9 144.5 322.9 145.1 324.9 145.6 326.8 146.9 327 148.7 324 149.1 322.9 148.2 321.2 147 321.4 148.5 319.2 149.6 323.6 149.7 325.8 149.8 321 151.7 316 153.5 310.8 154.2 308.9 154.3 306.9 155.1 303.9 157.5 299.7 159.1 298.5 159.2 296 159.7 293.3 160.3 291.3 161.7 290.8 163.3 289.4 164.8 285.9 166.7 286 168.6 284.6 170.5 282.9 172.8 280.2 173 278.2 171 275 169.7 273.2 169.7 272.9 167.4 270.9 164.5 270.6 163 271.2 160.9 269.7 158.8 271.1 157.1 270.3 156.3 273.2 153.7 276.1 152.9 277.2 152 278.3 150.2 276 151 275 151.4 273.3 151.7 271.6 150.9 272.2 149.5 273.5 148.3 275 148.3 278.1 148.9 276 147.5 274.9 146.8 273.1 147.1 272 146.5 274.9 144.5 274.3 143.8 273.9 142.3 273.3 140.1 271.8 139.3 272.4 138.5 269.1 137.3 265.9 137.2 261.8 137.2 257.9 137.4 256.7 136.8 255.1 135.5 259.5 134.9 262.7 134.8 256.7 134.3 254 133.5 254.9 132.8 261.3 131.9 267.5 131 268.7 130.3 265.4 129.6 267.2 129 273.2 127.8 275.4 127.6 275.5 126.9 279.1 126.5 283.6 126.2 287.9 126.2 289 126.7 293.3 125.8 296.2 126.4 298.1 126.5 300.7 127.1 297.9 126.2 298.5 125.5Z" fill="url(#hatch)"/>
<path d="M671.5 434.9L673 435.8 674.3 435.4 676.3 434.9 677.5 435.1 675.6 438.2 674.3 439.1 672.7 441.1 672.4 440.4 669.7 442.2 669.4 442.1 668.2 442 668.4 439.8 669.2 438.1 669.4 435.8 670.2 434.6 671.5 434.9ZM692 364.2L692.5 366.2 694.2 365.2 694.8 366.4 695.7 367.4 695.2 368.5 695.3 370.8 695.4 372.1 695.9 372.4 696.1 374.6 695.6 376 696 377.8 698.1 379.1 699.4 380.4 700.7 381.5 700.3 382.2 701.2 383.8 701.4 386.6 702.4 386.1 703.1 387.2 703.7 386.8 703.4 389.6 704.6 391.2 705.4 392.2 706.6 394.3 706.6 396.4 706.1 397.9 705.4 399.5 705.7 401.7 704.7 404 703.8 405.3 702.3 407.6 701.7 409.1 700.4 411 698.4 413.4 696.1 414.6 694.4 416.7 693 418 691.2 420.2 689.7 421.5 688.1 423.5 686.8 425.3 686.5 426.1 684.7 427 682.3 427.1 679.7 428.2 678.1 429.2 676.2 430.3 675.1 429.1 674 428.7 675.1 427.3 673.6 427.8 670.7 429.7 669.2 429 668.3 428.6 667.1 428.4 665.5 427.6 664.9 426 665.5 424.1 665.7 422.7 665.1 421.7 663.2 421.4 664.5 420.1 664.9 418.2 663 420 660.8 420.4 662.6 419 663.7 417.5 665.1 416.2 665.8 414.3 663 416.5 661.2 417.4 659.5 419.5 658.2 418.4 658.9 417 658.4 415.1 657.6 414.1 658.3 413.5 656.1 411.9 654.6 411.9 653 410.6 648.9 410.8 645.7 411.8 642.9 412.7 640.8 412.5 638 413.8 635.8 414.4 634.9 415.8 633.6 416.9 631.8 416.9 630.3 417.2 628.6 416.7 626.9 417 625.3 417.1 623.5 418.5 622.9 418.4 621.5 419.1 620.1 419.9 618.5 419.8 617.1 419.8 615.4 418.2 614.4 417.7 615.1 416.2 616.3 415.8 616.9 415.2 617.1 414.3 618 412.4 618.3 410.9 618 408.3 618.1 406.8 618.7 405.3 618.3 403.6 618.4 402.8 617.7 401.8 618 399.7 617.3 397.6 617.2 396.5 617.9 397.6 617.7 395.2 618.7 396 619.1 397 619.4 395.6 618.7 393.6 618.7 392.8 618.3 392 618.9 390.5 619.5 389.8 620 388.5 620.1 387 621.3 385.1 621.1 387.1 622.4 385.3 624.4 384.4 625.7 383.3 627.6 382.3 628.7 382.1 629.3 382.5 631.2 381.5 632.7 381.2 633.1 380.6 633.8 380.4 635 380.4 637.5 379.7 639 378.5 639.8 377.1 641.4 375.8 641.7 374.7 642 373.3 643.9 371.1 644.5 373.4 645.6 372.8 645 371.6 645.9 370.3 646.8 370.9 647.4 368.9 648.8 367.6 649.5 366.6 650.8 366.1 650.9 365.4 651.9 365.7 652 365 653 364.7 654.2 364.3 655.7 365.5 656.8 367.1 658.2 367.1 659.6 367.3 659.4 365.9 660.7 363.8 661.9 363.1 661.6 362.5 662.8 361 664.3 360 665.4 360.4 667.4 359.9 667.5 358.5 665.9 357.7 667.2 357.3 668.7 357.9 669.8 359 671.6 359.7 672.3 359.4 673.6 360.2 675.1 359.5 675.9 359.7 676.5 359.2 677.4 360.5 676.6 361.9 675.6 362.9 674.8 363 674.9 364.1 674 365.4 673 366.7 673.1 367.4 674.7 368.9 676.3 369.7 677.3 370.6 678.7 372.1 679.3 372.1 680.4 372.8 680.6 373.6 682.6 374.5 684.3 373.6 685 372.2 685.7 371 686.2 369.6 687.2 367.5 687.1 366.3 687.4 365.5 687.4 364 688 362 688.5 361.5 688.2 360.6 689 359.2 689.6 357.8 689.7 357.1 690.7 356.1 691.2 357.4 691.2 359 691.7 359.3 691.6 360.4 692.3 361.7 692.3 363.2 692 364.2Z" fill="#fff7ec"/>
<path d="M729.9 435.2L729.5 436.3 731.8 435.2 731.6 436.3 730.8 437.4 729.1 438.6 726.2 440.5 724.3 441.5 724 442.8 722.4 442.8 719.8 443.8 717.9 445.5 714.5 448.1 711.9 449.2 710.3 450 708.4 449.9 707.8 449.1 705.7 448.9 706.2 447.9 708.8 446 713.5 443.5 715.3 443 717.5 442 720.4 440.7 722.7 439.3 725.1 437.4 726.4 436.7 727.8 435.3 730.2 434.1 729.9 435.2ZM741.7 422.8L741.5 425.5 742.7 423.8 743.2 424.5 742.2 426.4 743.4 427.3 744.7 427.5 746.6 426.5 747.5 426.8 745.4 429.1 743.7 430.6 742.1 430.6 741 431.4 740.4 432.5 739.7 433 737.9 434.4 735.5 436.2 733 437.2 733.2 436.5 732.6 436.1 735.4 434 735.8 432.6 734.2 431.5 734.9 430.6 737.1 429.7 738.8 427.7 739.8 426 740.1 424.2 740.4 423.8 740.1 422.7 739.7 420.4 739.9 418.5 740.9 418.3 741.2 419.8 742.5 420.5 741.7 422.8Z" fill="#fff7ec"/>
<path d="M738.7 383.3L740.1 385 741 386.2 739.9 386.8 738.9 386.1 737.6 384.9 736.5 383.5 735.4 381.7 735.4 380.8 736.3 380.8 737.4 381.7 738.1 382.6 738.7 383.3Z" fill="#fff7ec"/>
<path d="M769.8 373.5L770.4 374.3 769.7 375.7 768.2 376 767 375.7 767.1 374.5 768.2 373.6 769.2 374 769.8 373.5ZM772.4 372.1L770.8 372.7 770.8 371.7 772 371.2 772.8 371 774.3 370.2 774 371.5 772.4 372.1Z" fill="#fff7ec"/>
<path d="M746.3 371.3L745.5 371.6 745 370.4 745.2 369.7 746.3 371.3ZM745.5 367.2L745.4 369.4 744.9 369 744.4 369.2 744.2 368.4 744.5 366.4 745.5 367.2Z" fill="#fff7ec"/>
<path d="M735.9 355.6L736.4 356.5 734.8 356.5 734.1 354.9 735.4 355.5 735.9 355.6ZM733.2 354L732.2 354.1 730.9 353.8 730.4 353.4 730.7 352.3 732.2 352.8 732.9 353.3 733.2 354ZM735.1 353.3L734.7 353.8 733.3 351.5 733 349.9 733.7 349.9 734.4 352 735.1 353.3ZM731.3 350L731.4 350.5 729.7 349.4 728.5 348.4 727.7 347.6 728.1 347.3 729.1 347.9 730.9 349.1 731.3 350ZM725.3 346.5L726.2 347.4 725.7 347.5 724.8 346.9 723.9 345.9 724.1 345.4 725.3 346.5Z" fill="#fff7ec"/>
<path d="M410.9 152.2L412.2 151.9 414.8 151.1 416.3 150.3 419.5 151.6 424.2 152.2 431.5 154.7 433.1 155.7 433.8 157.2 432.3 158.4 429.6 159 421.4 157.3 420.2 157.6 423.5 159.3 424.7 162.7 427.1 163.4 428.7 164 428.6 162.9 427.2 161.9 428.1 161 432.8 162.4 434.1 161.9 432.4 160.2 435.7 157.9 437.3 158.1 439.2 158.9 439.7 157.3 437.7 156 438.1 154.6 436.3 153.3 441.3 154 442.8 155.2 440.7 155.5 441.2 156.7 442.9 157.5 445.3 157 445.2 155.6 448.3 154.5 453.3 152.6 454.7 152.7 453.6 154.1 455.8 154.3 456.7 153.5 459.8 153.5 461.9 152.6 464.5 153.9 465.6 152.4 463.2 151.1 463.7 150.4 469 151.1 471.7 151.8 479.3 154.3 479.7 153.1 477.3 152 477 151.5 474.8 151.3 474.7 150.2 472.8 148.6 472.3 147.9 474.1 145.9 473.8 144 474.7 143.6 479.4 144.1 480.6 145.3 480.2 147 481.7 147.7 483.3 149.2 484.8 152.3 487.6 153.6 487.8 155.1 486.4 158.3 488.5 158.6 488.7 157.8 490.3 157.2 490.1 156.1 490.8 155.1 489 153.8 488.9 152.3 486.9 152.1 485.7 150.9 485.6 148.7 482.2 147 484.1 145.5 482.6 144 483.4 144 485.1 145.1 486 147.2 488 147.6 486.1 146.1 488.2 145.2 491.5 145.1 495.4 146.3 492.6 144.6 490.6 142.3 493 141.9 496.9 142 500 141.7 497.8 140.6 498.4 139.3 500.1 139.2 502.1 138.2 505.9 138 505.8 137.4 509.6 137.2 511.4 137.7 513.6 136.6 516.4 136.7 515.8 135.8 516.2 135 518.8 134.2 522.2 134.8 520.7 135.3 524.5 135.6 526.2 136.6 527 136.1 531.4 136.1 536.1 137.1 538.3 137.8 539.3 138.9 538.4 139.5 535.6 140.6 535.1 141.2 537.4 141.5 540.4 142 541.3 141.6 543.7 143 543.8 142.4 545.9 142.1 551.4 142.4 553 143.4 560.1 143.7 558.1 142.1 562 142.5 564.5 142.5 568.5 143.6 571 144.9 571.2 145.8 575.3 147.5 579 148.4 577.7 146.1 581.5 147.1 583.6 146.5 587.6 147.2 588 146.6 591.1 146.9 587.2 144.9 588.1 144 604.6 145.4 607.8 146.6 614.5 148.3 620.5 147.9 624.3 148.2 627 149.1 629.1 150.7 632.1 151.3 633.7 150.9 636.5 150.8 640.3 151.3 643.1 151 649 153 650 152.3 646.5 150.9 645.8 149.9 652 150.5 655.3 150.4 661.7 151.4 665.6 152.4 679.2 161.4 678.4 162.4 675.8 162.2 679.1 163.5 682.9 165.4 684.6 166 686.2 167 686.6 167.6 682.5 167.1 679.8 168.9 678.6 169.2 677.9 170.8 677.1 172.3 677.8 173.4 673.1 171.7 670.6 173.6 668.7 172.7 668.1 173.7 665.3 173.4 666.5 175 667 177.3 668.2 178.3 670.9 178.8 674.7 182.4 673 182.5 674.3 184.5 676.3 185.6 674.2 186.9 676.4 189.7 674.1 190.3 676 192.9 675.3 195.2 672.9 193.5 668.6 189.8 662 184.3 659.4 180.9 659.5 179.5 658.3 178.3 660.6 177.8 660.6 174.7 660.8 172.3 661.8 170.4 659.2 167 657.2 167.2 658.6 169.2 657.1 171.8 652.1 168.9 648.3 169.7 648.3 173.7 651.5 175.2 648.1 175.8 645.4 176 643.7 174.3 640.4 173.9 639.4 175.1 633.2 174.7 627.9 175.4 626.4 180.1 624.4 185.9 627.7 186.3 630 187.8 632.4 188.3 632.6 187.1 634.8 187.3 640.1 190 642 192.1 642.5 194.7 644.8 197.7 646.9 201.7 646.5 205.4 647 207.2 646.3 210.2 645.4 213.2 645.1 214.7 643.2 216.2 641.9 216.2 639.8 215 638.2 216.9 638.3 217.7 637.8 217.3 637 216 638 215.9 636.4 212.8 634.5 210.6 635.7 209.7 638.5 210.2 638.2 207.7 637 204.9 637.2 203.9 636.7 201.6 633.8 202.4 632.8 203.4 629.7 203.4 627.2 201 623.6 199.2 619.5 198.4 617 195.9 615.2 194.4 613.6 193.3 610.5 190.8 608 189.8 604.5 189.1 602 189.2 599.9 189.6 599.2 190.9 600.7 191.4 601.7 192.8 601.2 193.6 601.3 196.3 602.1 197.4 600.2 199 597.2 198.1 595 198.3 593.4 197.4 592 197.1 590.2 198.9 587.8 199.4 586.3 200 583.5 199.6 581.7 199.6 579.7 198.3 577 197.1 574.8 196.7 572.4 197.1 570.8 197.6 567.4 196.5 565.9 194.6 563.1 193.9 561.2 193.7 558.3 192.6 557.8 195.2 559.4 196.7 558.4 198.5 555.2 197.8 553.2 197.8 551.2 196.6 549.1 196.5 546.9 195.8 544.5 196.9 541.8 199.1 539.8 199.6 539.2 199.8 537.4 198.2 534.9 198.6 533.6 197.5 531.9 197 530.3 195.5 528.9 195.1 526.4 195.7 523 194.3 522.5 195.6 515.1 189.2 511.7 187.3 512 186.5 508.2 188.9 506.4 189 506 187.6 503.1 186.8 501.3 187.4 499.5 184.8 495.8 184.3 494.5 185.3 490.1 186.3 489.4 186.9 482.5 187.7 481.9 188.6 484 190.3 482.4 190.9 483 191.6 481.5 192.8 485.4 194.6 485.3 195.8 482.4 195.7 482.1 196.4 479.1 195.1 476 195.2 474.2 196.2 471.5 195.2 466.6 193.4 463.5 193.5 460.2 196.2 460.5 198.1 458 196.6 457.1 199.4 457.8 199.9 457.2 201.9 459.3 203.6 460.8 203.5 462.5 205.2 462.6 206.5 463.8 207 463.2 208.5 461.3 208.9 459.9 211.6 462.3 214 462.5 215.7 465.4 218.8 464.4 219.8 464.2 220.5 463.2 220.3 461.4 218.7 460.8 218.7 459.4 218.1 458.5 217 456.4 216.5 455.3 216.9 454.8 216.4 451.7 215.1 448.5 214.7 446.7 214.3 446.5 214.6 443.4 212.4 440.9 211.4 438.8 209.9 440.2 209.5 441.5 207.4 440.2 206.3 443 205.3 442.8 204.8 441.1 205.2 440.9 204 441.8 203.3 443.8 203.1 443.9 202.3 443.2 200.9 443.7 199.5 443.5 198.8 440.4 198 439.2 198 437.7 196.8 436.3 197.2 433.6 196.3 433.5 195.8 432.6 194.7 430.9 194.6 430.6 193.8 431 193.3 429.5 191.9 427.5 192.1 426.9 192 426.5 192.6 425.7 192.5 424.9 190.9 424.3 190.1 424.6 189.8 426.2 189.9 426.9 189.4 426.2 188.7 424.8 188.3 424.8 187.8 423.9 187.3 422.4 185.7 422.7 185.1 422.2 183.9 420.2 183.3 419.3 183.6 418.9 183 416.8 182.4 415.9 180.9 415.5 179.8 414.5 179.2 415.1 178.4 414.1 176.2 415.2 174.8 414.8 174.3 416.7 173 414.5 171.9 417.7 168.8 419.1 167.5 419.5 166.3 416.5 164.7 416.8 163.2 414.8 161.4 415.5 159.5 412.9 156.9 414 155.2 411.1 153.7 410.9 152.2ZM60.2 152.4L61.7 154.1 62.9 156.3 60.6 157.7 61 158.3 63 156.6 67.1 157 67.6 159.1 64.4 160.1 61.2 160.3 58.1 162.6 56.7 163.1 55.1 163 54.9 162.2 53.5 161.5 54.5 160.5 53.3 160.1 50.9 160.4 51.1 159.6 52.7 158.8 49.8 159.3 49 160.4 46.6 161.4ZM407 186.9L403.5 187 401 186.7 401.3 185.6 403.9 184.8 406 185.2 406.9 185.6 406.8 186.3 407 186.9ZM649.6 195.9L655.2 200.4 651.6 199.5 653.1 203.2 657 205.8 658.2 207.6 655.6 206.1 655.6 208.1 653.7 205.9 652.1 203.4 649.9 200.7 648.9 198.7 646.3 195.4 643 192.9 640.3 189.5 641.1 188.3 639.2 187.2 639.8 186.8 641.8 188.5 644.6 190.9 646.7 193.3 649.6 195.9ZM447.6 142.1L450.4 140.3 449.4 139.4 452.2 138.3 456.4 137 461.2 136.6 463.2 135.9 465.9 135.7 467.6 136.4 467.1 137.1 462.4 138 458.4 139 454.8 140.9 453.7 143 452.3 145 453.6 146.8 457.7 148.5 456.8 148.7 451.3 148.4 450.3 147.5 447.1 146.9 446.3 145.8 447.7 145.3 447 144.2 449.2 142.3 447.6 142.1ZM510.3 131.3L511.2 131.1 512.5 131.2 517.7 132.3 518.3 133 510.9 133.8 510.3 131.3ZM495.4 128.1L497.9 127.7 501.8 128.6 507.4 130.3 509.3 131.9 506.4 132.2 501.6 131.6 498.3 130.9 495.6 129.6 493.2 129.3 495.4 128.1ZM574.2 137.3L579.6 137.3 586.6 138.3 588.1 139.9 582.2 139.8 576 138.9 574.2 137.3ZM69.4 146.8L72.4 147.3 71.8 147.6 69.2 148.2 66.8 148.3ZM659 148.3L657.3 148.4 655.9 147.7 656.4 146.8ZM426.9 128.8L431.6 128.3 436 128.6 432.9 129.3 426.9 128.8Z" fill="#fdd49e"/>
<path d="M188.6 328.5L187.6 327.9 186.5 327.1 185.8 327.5 183.9 327.1 183.3 326 182.9 326 180.6 324.5 180.3 323.7 181.2 323.5 181.1 322.2 181.6 321.3 182.8 321.1 183.8 319.4 184.7 318.1 183.9 317.5 184.4 315.9 183.9 313.5 184.4 312.8 184.2 310.6 183.3 309.2 183.6 308 184.4 308.2 184.8 307.4 184.4 305.8 184.7 305.5 185.9 305.5 187.7 303.7 188.7 303.4 188.7 302.6 189.3 300.4 190.7 299.1 192.1 299.1 192.3 298.5 194.1 298.8 196 297.4 196.9 296.9 198.1 295.6 198.9 295.8 199.5 296.4 199 297.3 197.5 297.8 196.8 299.1 195.9 299.8 195.2 300.8 194.8 302.7 194.1 304.2 195.3 304.4 195.5 305.6 196 306.1 196.1 307.2 195.8 308.2 195.8 308.7 196.4 308.9 196.9 309.8 199.9 309.6 201.2 309.9 202.8 312.2 203.7 311.9 205.4 312 206.7 311.7 207.5 312.2 207 313.6 206.5 314.5 206.3 316.4 206.7 318.1 207.3 318.9 207.4 319.5 206.2 320.8 207 321.3 207.6 322.3 208.3 324.9 207.8 325.2 207.4 323.6 206.8 322.8 206 323.7 201.5 323.7 201.5 325.3 202.9 325.6 202.8 326.6 202.3 326.3 201 326.7 201 328.6 202 329.6 202.4 331.1 202.4 332.2 201.5 339.4 200.3 338 199.6 337.9 201 335.3 199.2 334.1 197.8 334.3 197 333.8 195.7 334.5 194 334.2 192.6 331.4 191.5 330.8 190.8 329.5 189.2 328.3 188.6 328.5Z" fill="#fdbb84"/>
<path d="M199 297.3L198.9 297.9 197.5 298.2 198.2 299.4 198.1 300.8 197 302.3 197.8 304.4 198.8 304.2 199.4 302.3 198.7 301.4 198.7 299.4 201.6 298.4 201.4 297.1 202.3 296.3 203 298.2 204.6 298.2 206 299.7 206 300.5 208.1 300.5 210.6 300.3 211.8 301.4 213.6 301.8 214.9 301 215 300.3 217.8 300.1 220.6 300.1 218.6 300.9 219.3 302.1 221.1 302.3 222.8 303.6 223.1 305.7 224.3 305.6 225.2 306.2 223.3 307.8 223.1 308.7 223.8 309.7 223.2 310.2 221.8 310.6 221.8 311.8 221.2 312.6 222.7 314.5 223 315.3 222.1 316.3 219.5 317.3 217.8 317.7 217.1 318.3 215.3 317.6 213.6 317.3 213.2 317.5 214.2 318.2 214.1 320 214.3 321.6 216.3 321.8 216.4 322.4 214.8 323.1 214.5 324.2 213.5 324.7 211.8 325.3 211.3 326.1 209.5 326.3 208.3 324.9 207.6 322.3 207 321.3 206.2 320.8 207.4 319.5 207.3 318.9 206.7 318.1 206.3 316.4 206.5 314.5 207 313.6 207.5 312.2 206.7 311.7 205.4 312 203.7 311.9 202.8 312.2 201.2 309.9 199.9 309.6 196.9 309.8 196.4 308.9 195.8 308.7 195.8 308.2 196.1 307.2 196 306.1 195.5 305.6 195.3 304.4 194.1 304.2 194.8 302.7 195.2 300.8 195.9 299.8 196.8 299.1 197.5 297.8 199 297.3Z" fill="#ef6548"/>
<path d="M232.2 323.2L231.6 323.3 230.4 323 229.6 323.7 228.5 324.2 227.8 324.3 227.6 324.8 226.4 324.7 225 323.5 224.9 322.3 224.3 320.9 224.7 318.7 225.4 317.8 224.9 316.6 224.1 316.2 224.4 315 223.9 314.4 222.7 314.5 221.2 312.6 221.8 311.8 221.8 310.6 223.2 310.2 223.8 309.7 223.1 308.7 223.3 307.8 225.2 306.2 226.7 307.2 228 308.9 228.1 310.3 228.9 310.3 230.1 311.6 231 312.5 230.6 314.9 229.2 315.6 229.3 316.2 228.8 317.5 229.8 319.4 230.5 319.4 230.8 320.9 232.2 323.2Z" fill="#fdd49e"/>
<path d="M236.9 322.1L235.5 321.5 234.5 321.8 233.5 321.6 233.3 322.3 233.7 322.9 233.5 323.4 232.2 323.2 230.8 320.9 230.5 319.4 229.8 319.4 228.8 317.5 229.3 316.2 229.2 315.6 230.6 314.9 231 312.5 233.8 313 234 312.6 235.9 312.4 238.4 313.1 237.1 315.3 237.2 317.1 238.1 318.7 237.7 319.8 237.5 321 236.9 322.1Z" fill="#fff7ec"/>
<path d="M177.3 337.1L178.5 335.1 178 334 177.1 335.2 175.7 334 176.2 333.3 175.8 330.9 176.6 330.5 177 328.9 177.9 327.2 177.7 326.1 179 325.6 180.6 324.5 182.9 326 183.3 326 183.9 327.1 185.8 327.5 186.5 327.1 187.6 327.9 188.6 328.5 189 330.5 188.2 332.2 185.8 335 183 336 181.7 338.3 181.3 340.1 180 341.1 179 339.8 178.1 339.5 177.1 339.7 177 338.8 177.6 338.2 177.3 337.1Z" fill="#fee8c8"/>
<path d="M204.2 374.2L203.7 375.5 202.6 376.2 200.2 374.7 199.9 373.6 195.1 371 190.7 368.1 188.8 366.5 187.7 364.3 188 363.6 185.8 360.1 183.2 355.3 180.8 350.1 179.8 348.9 179 347 177.1 345.3 175.4 344.2 176.1 343 174.9 340.5 175.6 338.7 177.3 337.1 177.6 338.2 177 338.8 177.1 339.7 178.1 339.5 179 339.8 180 341.1 181.3 340.1 181.7 338.3 183 336 185.8 335 188.2 332.2 189 330.5 188.6 328.5 189.2 328.3 190.8 329.5 191.5 330.8 192.6 331.4 194 334.2 195.7 334.5 197 333.8 197.8 334.3 199.2 334.1 201 335.3 199.6 337.9 200.3 338 201.5 339.4 199.4 339.3 199.1 339.7 197.2 340.2 194.6 342 194.5 343.2 193.9 344.1 194.2 345.5 192.8 346.3 192.9 347.4 192.3 347.8 193.4 350.2 194.7 351.8 194.3 352.9 195.8 353.1 196.8 354.5 198.8 354.5 200.6 353 200.7 357 201.7 357.3 203 356.8 205.3 361 204.8 361.9 204.8 363.8 205 366 204.2 367.3 204.7 368.3 204.2 369.1 205.4 371.3 204.2 374.2Z" fill="#fee8c8"/>
<path d="M235.1 407.2L237.5 403.7 239.7 401.1 241.1 400.1 242.8 398.6 242.6 396.5 241.3 395 240.2 395.5 240.5 394 240.6 392.5 240.5 391 239.7 390.6 238.9 391 238 390.9 237.6 389.9 237.2 387.5 236.7 386.7 235.1 386 234.2 386.5 231.8 386 231.6 382.4 230.8 381 231.5 380.4 231.1 378.9 231.7 377.8 231.9 375.7 231.2 374.1 229.9 373.4 229.6 372.3 229.8 370.8 225.4 370.7 224.3 367.7 225 367.6 224.9 366.5 224.4 365.7 224.2 364.2 222.8 363.4 221.4 363.5 220.4 362.7 218.8 362.2 217.8 361.2 215.2 360.8 212.6 358.4 212.7 356.7 212.3 355.7 212.5 353.7 209.5 354.1 208.3 355.1 206.4 356.2 205.9 357 204.7 357 203 356.8 201.7 357.3 200.7 357 200.6 353 198.8 354.5 196.8 354.5 195.8 353.1 194.3 352.9 194.7 351.8 193.4 350.2 192.3 347.8 192.9 347.4 192.8 346.3 194.2 345.5 193.9 344.1 194.5 343.2 194.6 342 197.2 340.2 199.1 339.7 199.4 339.3 201.5 339.4 202.4 332.2 202.4 331.1 202 329.6 201 328.6 201 326.7 202.3 326.3 202.8 326.6 202.9 325.6 201.5 325.3 201.5 323.7 206 323.7 206.8 322.8 207.4 323.6 207.8 325.2 208.3 324.9 209.5 326.3 211.3 326.1 211.8 325.3 213.5 324.7 214.5 324.2 214.8 323.1 216.4 322.4 216.3 321.8 214.3 321.6 214.1 320 214.2 318.2 213.2 317.5 213.6 317.3 215.3 317.6 217.1 318.3 217.8 317.7 219.5 317.3 222.1 316.3 223 315.3 222.7 314.5 223.9 314.4 224.4 315 224.1 316.2 224.9 316.6 225.4 317.8 224.7 318.7 224.3 320.9 224.9 322.3 225 323.5 226.4 324.7 227.6 324.8 227.8 324.3 228.5 324.2 229.6 323.7 230.4 323 231.6 323.3 232.2 323.2 233.5 323.4 233.7 322.9 233.3 322.3 233.5 321.6 234.5 321.8 235.5 321.5 236.9 322.1 237.9 322.6 238.6 321.9 239.1 322 239.4 322.8 240.5 322.6 241.4 321.6 242.2 319.7 243.6 317.3 244.4 317.1 244.9 318.6 246.1 323.2 247.4 323.6 247.4 325.4 245.7 327.6 246.4 328.4 250.5 328.8 250.6 331.4 252.3 329.7 255.2 330.6 259.1 332.2 260.2 333.7 259.9 335.2 262.5 334.4 267.1 335.8 270.5 335.7 273.9 337.8 276.9 340.8 278.7 341.5 280.7 341.6 281.6 342.5 282.4 345.8 282.8 347.4 282 351.7 280.9 353.4 277.7 357 276.3 360 274.7 362.3 274.2 362.3 273.6 364.3 274 369.2 273.5 373.2 273.4 374.9 272.7 376 272.5 379.5 270.4 382.9 270.2 385.6 268.5 386.7 268.1 388.3 265.6 388.3 262.1 389.3 260.6 390.4 258.2 391.2 255.7 393.3 254 395.9 253.9 397.8 254.4 399.3 254.3 401.9 253.9 403.2 252.6 404.6 250.7 409.3 249.1 411.3 247.8 412.6 247.2 415 246 416.5 245.1 415.1 245.9 413.8 244.3 412 242.4 410.6 239.8 408.9 239 409 236.5 407 235.1 407.2Z" fill="#fff7ec"/>
<path d="M220.7 385.8L218.1 385.7 217.4 387.8 215.9 385.9 212.9 385.3 211.3 387.7 209.7 388 208.4 384.4 206.9 381.5 207.3 378.9 206 377.8 205.5 375.9 204.2 374.2 205.4 371.3 204.2 369.1 204.7 368.3 204.2 367.3 205 366 204.8 363.8 204.8 361.9 205.3 361 203 356.8 204.7 357 205.9 357 206.4 356.2 208.3 355.1 209.5 354.1 212.5 353.7 212.3 355.7 212.7 356.7 212.6 358.4 215.2 360.8 217.8 361.2 218.8 362.2 220.4 362.7 221.4 363.5 222.8 363.4 224.2 364.2 224.4 365.7 224.9 366.5 225 367.6 224.3 367.7 225.4 370.7 229.8 370.8 229.6 372.3 229.9 373.4 231.2 374.1 231.9 375.7 231.7 377.8 231.1 378.9 231.5 380.4 230.8 381 230.7 380.2 228.5 378.8 226.4 378.8 222.5 379.5 221.6 381.8 221.7 383.3 221.1 386.4 220.7 385.8Z" fill="#fff7ec"/>
<path d="M230.8 381L231.6 382.4 231.8 386 234.2 386.5 235.1 386 236.7 386.7 237.2 387.5 237.6 389.9 238 390.9 238.9 391 239.7 390.6 240.5 391 240.6 392.5 240.5 394 240.2 395.5 240.1 397.8 238.3 399.8 236.6 400.3 234.1 399.9 231.7 399.1 233.4 395.2 233 394 230.5 393 227.6 391.1 225.7 390.7 221.1 386.4 221.7 383.3 221.6 381.8 222.5 379.5 226.4 378.8 228.5 378.8 230.7 380.2 230.8 381Z" fill="#fff7ec"/>
<path d="M236.6 471.5L234.9 471.7 233.5 470.8 232.3 470.7 230.2 470.7 227.8 465.2 229.1 466.3 230.8 468.2 234 469.7 237 470.3 236.6 471.5ZM215.9 385.9L217.4 387.8 218.1 385.7 220.7 385.8 221.1 386.4 225.7 390.7 227.6 391.1 230.5 393 233 394 233.4 395.2 231.7 399.1 234.1 399.9 236.6 400.3 238.3 399.8 240.1 397.8 240.2 395.5 241.3 395 242.6 396.5 242.8 398.6 241.1 400.1 239.7 401.1 237.5 403.7 235.1 407.2 234.9 409.3 234.7 412 235.2 414.6 234.8 415.2 235 416.9 235.1 418.3 238.3 420.5 238.4 422.3 240 423.5 240.1 424.7 238.8 428.1 235.9 429.5 231.7 430 229.3 429.8 230.1 431.3 230.2 433.3 230.9 434.6 229.9 435.5 227.8 435.8 225.5 434.9 224.9 435.6 225.9 438.1 227.6 438.9 228.5 438.1 229.5 439.5 227.8 440.3 226.6 441.9 227.1 444.5 227.1 445.8 225.1 445.9 223.9 447.2 224 449.1 226.6 451 228.7 451.5 228.8 453.8 226.9 455.2 226.7 458.2 225.2 459.2 224.9 460.4 226.6 463 228.5 464.4 227.6 464.3 225.6 463.9 220.7 463.6 219.2 462.1 218.5 460.2 217.2 460.4 216.1 459.5 214.9 456.8 216 455.7 216 454.1 215.3 452.8 215.6 450.6 215.1 447.2 214.4 445.7 215.1 445.2 214.6 444.2 213.4 443.7 213.7 442.6 212.5 441.6 211 438.7 211.7 438.1 210.3 435 210 432.3 209.9 430 210.9 429 209.6 426.5 209 424.1 210.2 422.4 209.6 420.2 210.2 417.7 209.7 415.2 209 414.8 207 410.2 207.9 407.6 207.2 405 207.6 402.6 208.6 400.2 210 398.6 209.1 397.5 209.5 396.7 208.8 392.3 211.1 391 211.6 388.3 211.3 387.7 212.9 385.3 215.9 385.9Z" fill="#fff7ec"/>
<path d="M227.8 465.2L230.2 470.7 232.3 470.7 233.5 470.8 233.3 471.8 232 472.5 231 472.5 229.8 472.3 228.1 471.5 225.9 471.2 222.8 469.8 220.2 468.5 216.2 465.7 218.1 466.2 221.6 467.8 224.6 468.7 225 467.6 224.9 465.9 226.3 464.9 227.8 465.2ZM204.2 374.2L205.5 375.9 206 377.8 207.3 378.9 206.9 381.5 208.4 384.4 209.7 388 211.3 387.7 211.6 388.3 211.1 391 208.8 392.3 209.5 396.7 209.1 397.5 210 398.6 208.6 400.2 207.6 402.6 207.2 405 207.9 407.6 207 410.2 209 414.8 209.7 415.2 210.2 417.7 209.6 420.2 210.2 422.4 209 424.1 209.6 426.5 210.9 429 209.9 430 210 432.3 210.3 435 211.7 438.1 211 438.7 212.5 441.6 213.7 442.6 213.4 443.7 214.6 444.2 215.1 445.2 214.4 445.7 215.1 447.2 215.6 450.6 215.3 452.8 216 454.1 216 455.7 214.9 456.8 216.1 459.5 217.2 460.4 218.5 460.2 219.2 462.1 220.7 463.6 225.6 463.9 227.6 464.3 225.8 464.3 225.1 464.9 223.8 465.8 224.5 468.1 223.7 468.2 221.1 467.4 218.1 465.7 215 464.2 213.6 462.6 213.6 461.2 211.8 459.5 209.8 455.2 209.7 452.7 211.1 450.7 207.7 450 208.8 447.7 208 443.4 210.6 444.3 209.9 439 208.2 438.3 208.7 441.5 207.2 441.2 206.6 437.5 205.9 432.7 206.3 430.9 205 428.3 204 425.4 204.9 425.3 205.1 421.1 205.6 416.9 205.6 413 204.3 409.1 204.5 406.9 203.7 403.7 204.4 400.5 204 395.4 204.1 390 204.1 384.1 203.5 379.9 202.6 376.2 203.7 375.5 204.2 374.2Z" fill="#fee8c8"/>
<path d="M235.1 407.2L236.5 407 239 409 239.8 408.9 242.4 410.6 244.3 412 245.9 413.8 245.1 415.1 246 416.5 245.3 418.2 243.1 419.6 241.4 419.1 240.3 419.4 238.1 418.3 236.6 418.4 235 416.9 234.8 415.2 235.2 414.6 234.7 412 234.9 409.3 235.1 407.2Z" fill="#fff7ec"/>
</g>
<g class="legend">
<text class="s" x="181" y="510" font-size="13.1" text-anchor="middle">No data</text>
<line x1="181.2" y1="514.2" x2="181.2" y2="516.8" stroke="#999" stroke-width="0.8"/>
<rect x="157.3" y="516.8" width="47.2" height="11.6" fill="url(#hatch)" stroke="#a8a8a8" stroke-width="0.6"/>
<g font-size="13.2" text-anchor="middle" class="s">
<text x="224.4" y="510">0</text><text x="283" y="510">10</text><text x="341.5" y="510">30</text><text x="400.1" y="510">100</text><text x="458.7" y="510">300</text><text x="517.2" y="510">1,000</text><text x="575.8" y="510">3,000</text><text x="634.4" y="510">10,000</text>
</g>
<g stroke="#a0a0a0" stroke-width="0.6">
<rect x="224.4" y="516.8" width="58.57" height="11.5" fill="#fff7ec"/>
<rect x="282.97" y="516.8" width="58.57" height="11.5" fill="#fee8c8"/>
<rect x="341.54" y="516.8" width="58.57" height="11.5" fill="#fdd49e"/>
<rect x="400.11" y="516.8" width="58.57" height="11.5" fill="#fdbb84"/>
<rect x="458.68" y="516.8" width="58.57" height="11.5" fill="#fc8d59"/>
<rect x="517.25" y="516.8" width="58.57" height="11.5" fill="#ef6548"/>
<rect x="575.82" y="516.8" width="58.57" height="11.5" fill="#d7301f"/>
<path d="M634.39 516.8H687.6L692.9 522.55L687.6 528.3H634.39Z" fill="#990000"/>
</g>
<g stroke="#999" stroke-width="0.8">
<line x1="224.4" y1="514.2" x2="224.4" y2="516.8"/><line x1="282.97" y1="514.2" x2="282.97" y2="516.8"/><line x1="341.54" y1="514.2" x2="341.54" y2="516.8"/><line x1="400.11" y1="514.2" x2="400.11" y2="516.8"/><line x1="458.68" y1="514.2" x2="458.68" y2="516.8"/><line x1="517.25" y1="514.2" x2="517.25" y2="516.8"/><line x1="575.82" y1="514.2" x2="575.82" y2="516.8"/><line x1="634.39" y1="514.2" x2="634.39" y2="516.8"/>
</g>
</g>
<g class="s"><text id="dsb" x="16.6" y="560.8" font-size="11.9" font-weight="bold" textLength="72.4" lengthAdjust="spacingAndGlyphs">Data source:</text><text id="dsr" x="92.2" y="560.8" font-size="12.65" textLength="340.9" lengthAdjust="spacingAndGlyphs">UNHCR (2025); Population based on various sources (2024)</text>
<text id="ntb" x="16.6" y="580.6" font-size="12.05" font-weight="bold" textLength="31.6" lengthAdjust="spacingAndGlyphs">Note:</text><text id="ntr" x="52.2" y="580.6" font-size="12.75" textLength="363.3" lengthAdjust="spacingAndGlyphs">This data includes all refugees, not just those who fled that year.</text>
<text id="url" x="831.6" y="560.8" font-size="13.03" text-anchor="end">OurWorldinData.org/migration | CC BY</text></g>
</svg>
</body></html>
